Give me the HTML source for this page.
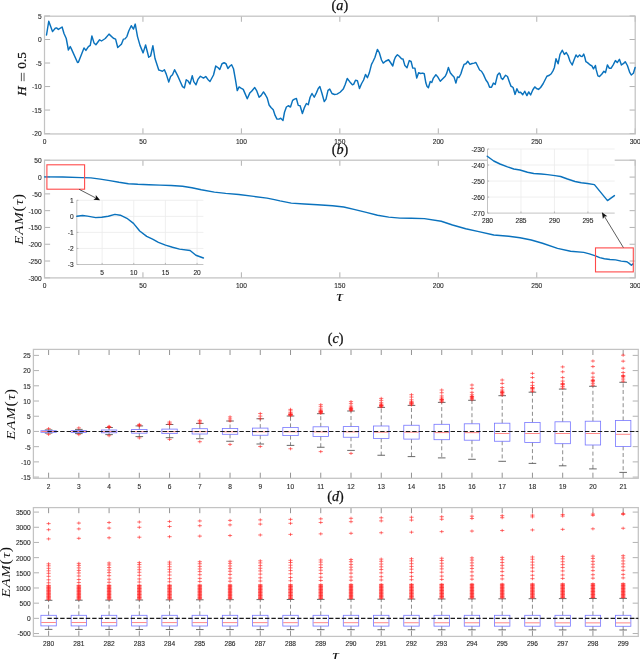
<!DOCTYPE html>
<html><head><meta charset="utf-8"><style>
html,body{margin:0;padding:0;background:#fff;}
body{width:640px;height:659px;overflow:hidden;}
svg{display:block;will-change:transform;font-family:"Liberation Sans",sans-serif;}
text.t{stroke:#2a2a2a;stroke-width:0.12px;}
[font-family="Liberation Serif"] text, text[font-family="Liberation Serif"]{stroke:#111;stroke-width:0.25px;}
</style></head><body>
<svg width="640" height="659" viewBox="0 0 640 659">
<rect width="640" height="659" fill="#fff"/>
<line x1="44.5" y1="133.95" x2="44.5" y2="128.35" stroke="#a9a9a9" stroke-width="0.9" />
<line x1="44.5" y1="16.2" x2="44.5" y2="21.8" stroke="#a9a9a9" stroke-width="0.9" />
<text class="t" x="44.5" y="144" text-anchor="middle" font-size="6.6" fill="#2a2a2a" >0</text>
<line x1="142.95" y1="133.95" x2="142.95" y2="128.35" stroke="#a9a9a9" stroke-width="0.9" />
<line x1="142.95" y1="16.2" x2="142.95" y2="21.8" stroke="#a9a9a9" stroke-width="0.9" />
<text class="t" x="142.95" y="144" text-anchor="middle" font-size="6.6" fill="#2a2a2a" >50</text>
<line x1="241.4" y1="133.95" x2="241.4" y2="128.35" stroke="#a9a9a9" stroke-width="0.9" />
<line x1="241.4" y1="16.2" x2="241.4" y2="21.8" stroke="#a9a9a9" stroke-width="0.9" />
<text class="t" x="241.4" y="144" text-anchor="middle" font-size="6.6" fill="#2a2a2a" >100</text>
<line x1="339.85" y1="133.95" x2="339.85" y2="128.35" stroke="#a9a9a9" stroke-width="0.9" />
<line x1="339.85" y1="16.2" x2="339.85" y2="21.8" stroke="#a9a9a9" stroke-width="0.9" />
<text class="t" x="339.85" y="144" text-anchor="middle" font-size="6.6" fill="#2a2a2a" >150</text>
<line x1="438.3" y1="133.95" x2="438.3" y2="128.35" stroke="#a9a9a9" stroke-width="0.9" />
<line x1="438.3" y1="16.2" x2="438.3" y2="21.8" stroke="#a9a9a9" stroke-width="0.9" />
<text class="t" x="438.3" y="144" text-anchor="middle" font-size="6.6" fill="#2a2a2a" >200</text>
<line x1="536.75" y1="133.95" x2="536.75" y2="128.35" stroke="#a9a9a9" stroke-width="0.9" />
<line x1="536.75" y1="16.2" x2="536.75" y2="21.8" stroke="#a9a9a9" stroke-width="0.9" />
<text class="t" x="536.75" y="144" text-anchor="middle" font-size="6.6" fill="#2a2a2a" >250</text>
<line x1="635.2" y1="133.95" x2="635.2" y2="128.35" stroke="#a9a9a9" stroke-width="0.9" />
<line x1="635.2" y1="16.2" x2="635.2" y2="21.8" stroke="#a9a9a9" stroke-width="0.9" />
<text class="t" x="635.2" y="144" text-anchor="middle" font-size="6.6" fill="#2a2a2a" >300</text>
<line x1="44.5" y1="15.98" x2="50.1" y2="15.98" stroke="#a9a9a9" stroke-width="0.9" />
<line x1="635.2" y1="15.98" x2="629.6" y2="15.98" stroke="#a9a9a9" stroke-width="0.9" />
<text class="t" x="41.6" y="18.88" text-anchor="end" font-size="6.6" fill="#2a2a2a" >5</text>
<line x1="44.5" y1="39.5" x2="50.1" y2="39.5" stroke="#a9a9a9" stroke-width="0.9" />
<line x1="635.2" y1="39.5" x2="629.6" y2="39.5" stroke="#a9a9a9" stroke-width="0.9" />
<text class="t" x="41.6" y="42.4" text-anchor="end" font-size="6.6" fill="#2a2a2a" >0</text>
<line x1="44.5" y1="63.02" x2="50.1" y2="63.02" stroke="#a9a9a9" stroke-width="0.9" />
<line x1="635.2" y1="63.02" x2="629.6" y2="63.02" stroke="#a9a9a9" stroke-width="0.9" />
<text class="t" x="41.6" y="65.92" text-anchor="end" font-size="6.6" fill="#2a2a2a" >-5</text>
<line x1="44.5" y1="86.54" x2="50.1" y2="86.54" stroke="#a9a9a9" stroke-width="0.9" />
<line x1="635.2" y1="86.54" x2="629.6" y2="86.54" stroke="#a9a9a9" stroke-width="0.9" />
<text class="t" x="41.6" y="89.44" text-anchor="end" font-size="6.6" fill="#2a2a2a" >-10</text>
<line x1="44.5" y1="110.06" x2="50.1" y2="110.06" stroke="#a9a9a9" stroke-width="0.9" />
<line x1="635.2" y1="110.06" x2="629.6" y2="110.06" stroke="#a9a9a9" stroke-width="0.9" />
<text class="t" x="41.6" y="112.96" text-anchor="end" font-size="6.6" fill="#2a2a2a" >-15</text>
<line x1="44.5" y1="133.58" x2="50.1" y2="133.58" stroke="#a9a9a9" stroke-width="0.9" />
<line x1="635.2" y1="133.58" x2="629.6" y2="133.58" stroke="#a9a9a9" stroke-width="0.9" />
<text class="t" x="41.6" y="136.48" text-anchor="end" font-size="6.6" fill="#2a2a2a" >-20</text>
<rect x="44.5" y="16.2" width="590.70" height="117.75" fill="none" stroke="#c3c3c3" stroke-width="1.25"/>
<polyline points="46.5,35 48.75,21.25 52.5,31.6 55.25,28.25 56.5,27.9 58.4,29.4 62.1,27 64,33.5 66.25,38.5 68.4,50 70.25,46.6 71.5,49.1 77.5,62.5 78.4,62.25 84,47.9 85.9,50.4 88.4,46.6 90.25,45.4 91.9,36 94,42.9 95.9,44.75 99.6,39.75 101.5,41 105.25,38.5 109,34.1 113.4,38.25 115.6,39.1 117.75,47.5 120.5,45 121.5,44.1 123.5,39.1 125,38.9 126.9,36.6 128.75,31 131.25,25.75 133.5,29.1 135.25,24.1 137.5,36.6 140,45.4 143.1,52.9 145.6,45 148.75,57.25 150.6,56 152.9,45.75 155,58.5 158.75,70 160,70.4 162.5,71.25 164.4,69.75 166.25,74.1 168.75,82 170.6,76.6 172.5,74.75 174.6,69.75 177.5,75.4 180,81 182.5,86.6 184.4,87.9 186.25,79.75 188.1,81 190,84.1 192.25,75.75 193.75,81.6 196,84.8 197.9,79.4 200.4,76.25 203.5,78.1 205.75,76.5 207.9,79.4 210,81.5 213.5,75 215.75,66 217.9,67.5 219.75,69.4 222,63.75 224.1,62.75 226,63.75 227.9,68.5 229.75,66.25 231.6,64.75 233.5,68.75 235.4,79.4 237.25,90.6 239.1,86.9 241,88.1 243.25,89.4 245.4,94.4 247.25,98.75 249.75,93.1 251.6,91.25 254.75,87.5 256.6,90.6 259.1,97.25 261,95.6 263.5,91.9 265.4,94.75 267.25,98.1 269.1,105 271,107.5 272,108.5 273.25,109.75 275.1,115.4 277,119.1 278.9,119.1 280.75,118.25 283,120.4 284.5,112.25 286.4,107 288.25,105.75 290.5,107 292.6,100.4 294.5,99.1 296.4,98.5 298.25,105.4 300.1,105.75 302.4,113.5 304.25,107.9 306.4,103.5 308.25,104.75 310.1,97.25 312,93.5 314.25,97.25 316.4,92.9 318.25,88.5 319.9,86.6 322,93.5 324.25,101.6 326,99.1 328,90.4 329.75,89.1 332,93.5 334.5,94.5 337,94.1 340.1,92.25 343.25,89.1 345.1,84.75 347.25,78.5 349.9,81.9 352.4,84.75 353.6,84.4 355.5,80.25 357.4,80.6 359.5,88.5 361.5,83.75 363.6,80 365.5,74.4 367.4,77.75 369.25,73.1 371.5,64.4 373,61.5 374.9,57.5 377.4,49.4 379.25,52.5 381.5,60 383.25,63.1 385.5,61.25 388.6,59.75 390.5,62.5 392.75,66 394.25,60 395.5,56.9 397.4,54.75 399.25,56.25 401.5,58.75 403,59 404.9,65.6 407,67.75 409.25,60.6 411.1,61.5 412.75,68.1 414.9,68.1 416.75,78.1 418.6,72.75 420.5,73.5 422.75,73.1 424.25,73.75 425.9,83.1 427.1,86.5 428.4,87.75 430.25,81.5 431.75,82.5 433.4,78.1 435.9,74.75 437.75,76.9 440.25,81.25 442.75,78.75 445.25,76.25 446.75,73.1 448.4,67.5 450.25,72.75 452.1,75 454,76.9 455.9,83.1 457.5,76.9 459,77.5 460.9,73.75 462.1,69.75 464,64.4 465.9,63.75 467.75,61.25 470,64.4 472.1,63.5 474,63.1 475.9,62.5 477.75,66.25 479.6,70 481.5,71.25 483.4,74.4 485.9,80 487.75,82.5 489.6,87.25 491.5,87.25 493.4,83.1 495.25,84.4 497.5,75 499.25,73.1 500,73.75 501.25,78.1 502.75,79.4 504.4,76.9 505.6,75.25 507.5,76.5 509.4,81.9 511,86.25 512.25,86.9 513.1,87.5 515,94.4 516.9,88.75 518.75,92.5 520.6,92.25 522.75,94.75 524.75,91.25 526.9,95.6 528.75,91.9 530.6,95 532.75,90 534.75,86.9 536.5,88.5 538.5,89.4 540.6,87.5 543.1,83.75 545,80 546.9,76.25 549.4,75.25 551.25,73.75 553.1,70.6 554.4,67.5 556,58.75 558.1,63.75 560,54.4 562.25,50.25 564.4,54.4 566.25,52.5 568.1,55.6 570,61.25 572.2,65 573.8,60.6 576,54.9 577.7,57.1 579.6,54.9 580.9,56.25 582.25,56.5 583.7,54.1 584.8,57.3 585.9,61.7 587.5,62.6 590.2,65 591.9,65.9 593.5,68.8 595.4,65.5 596.25,69.9 597.9,75.9 599.5,76.5 601.7,74.3 603.9,71.3 605.5,72.65 607.4,65 609.4,68.3 611,68.3 613.2,64.8 615.4,60.6 617.25,62.6 619.4,59.3 621.4,65 623.6,63.4 625.2,61.7 627.4,65.5 629.6,72.1 631.25,75 633.4,73.2 635.1,67.5" fill="none" stroke="#0a72bd" stroke-width="1.45" stroke-linejoin="round" stroke-linecap="round" />
<text x="339.9" y="9.9" text-anchor="middle" font-size="14.2" fill="#111" font-family="Liberation Serif">(<tspan font-style="italic">a</tspan>)</text>
<g transform="translate(25.9,74.6) rotate(-90)" fill="#111" font-family="Liberation Serif"><text x="-21.2" y="0" font-size="13" font-style="italic">H</text><path d="M-6.6 -4.5H1.8M-6.6 -1.85H1.8" stroke="#222" stroke-width="0.75"/><text x="5.9" y="0" font-size="13.2">0.5</text></g>
<line x1="44.5" y1="277.9" x2="44.5" y2="272.3" stroke="#a9a9a9" stroke-width="0.9" />
<line x1="44.5" y1="160.2" x2="44.5" y2="165.8" stroke="#a9a9a9" stroke-width="0.9" />
<text class="t" x="44.5" y="288.2" text-anchor="middle" font-size="6.6" fill="#2a2a2a" >0</text>
<line x1="142.95" y1="277.9" x2="142.95" y2="272.3" stroke="#a9a9a9" stroke-width="0.9" />
<line x1="142.95" y1="160.2" x2="142.95" y2="165.8" stroke="#a9a9a9" stroke-width="0.9" />
<text class="t" x="142.95" y="288.2" text-anchor="middle" font-size="6.6" fill="#2a2a2a" >50</text>
<line x1="241.4" y1="277.9" x2="241.4" y2="272.3" stroke="#a9a9a9" stroke-width="0.9" />
<line x1="241.4" y1="160.2" x2="241.4" y2="165.8" stroke="#a9a9a9" stroke-width="0.9" />
<text class="t" x="241.4" y="288.2" text-anchor="middle" font-size="6.6" fill="#2a2a2a" >100</text>
<line x1="339.85" y1="277.9" x2="339.85" y2="272.3" stroke="#a9a9a9" stroke-width="0.9" />
<line x1="339.85" y1="160.2" x2="339.85" y2="165.8" stroke="#a9a9a9" stroke-width="0.9" />
<text class="t" x="339.85" y="288.2" text-anchor="middle" font-size="6.6" fill="#2a2a2a" >150</text>
<line x1="438.3" y1="277.9" x2="438.3" y2="272.3" stroke="#a9a9a9" stroke-width="0.9" />
<line x1="438.3" y1="160.2" x2="438.3" y2="165.8" stroke="#a9a9a9" stroke-width="0.9" />
<text class="t" x="438.3" y="288.2" text-anchor="middle" font-size="6.6" fill="#2a2a2a" >200</text>
<line x1="536.75" y1="277.9" x2="536.75" y2="272.3" stroke="#a9a9a9" stroke-width="0.9" />
<line x1="536.75" y1="160.2" x2="536.75" y2="165.8" stroke="#a9a9a9" stroke-width="0.9" />
<text class="t" x="536.75" y="288.2" text-anchor="middle" font-size="6.6" fill="#2a2a2a" >250</text>
<line x1="635.2" y1="277.9" x2="635.2" y2="272.3" stroke="#a9a9a9" stroke-width="0.9" />
<line x1="635.2" y1="160.2" x2="635.2" y2="165.8" stroke="#a9a9a9" stroke-width="0.9" />
<text class="t" x="635.2" y="288.2" text-anchor="middle" font-size="6.6" fill="#2a2a2a" >300</text>
<line x1="44.5" y1="160.31" x2="50.1" y2="160.31" stroke="#a9a9a9" stroke-width="0.9" />
<line x1="635.2" y1="160.31" x2="629.6" y2="160.31" stroke="#a9a9a9" stroke-width="0.9" />
<text class="t" x="41.6" y="163.22" text-anchor="end" font-size="6.6" fill="#2a2a2a" >50</text>
<line x1="44.5" y1="177.1" x2="50.1" y2="177.1" stroke="#a9a9a9" stroke-width="0.9" />
<line x1="635.2" y1="177.1" x2="629.6" y2="177.1" stroke="#a9a9a9" stroke-width="0.9" />
<text class="t" x="41.6" y="180" text-anchor="end" font-size="6.6" fill="#2a2a2a" >0</text>
<line x1="44.5" y1="193.88" x2="50.1" y2="193.88" stroke="#a9a9a9" stroke-width="0.9" />
<line x1="635.2" y1="193.88" x2="629.6" y2="193.88" stroke="#a9a9a9" stroke-width="0.9" />
<text class="t" x="41.6" y="196.78" text-anchor="end" font-size="6.6" fill="#2a2a2a" >-50</text>
<line x1="44.5" y1="210.67" x2="50.1" y2="210.67" stroke="#a9a9a9" stroke-width="0.9" />
<line x1="635.2" y1="210.67" x2="629.6" y2="210.67" stroke="#a9a9a9" stroke-width="0.9" />
<text class="t" x="41.6" y="213.57" text-anchor="end" font-size="6.6" fill="#2a2a2a" >-100</text>
<line x1="44.5" y1="227.45" x2="50.1" y2="227.45" stroke="#a9a9a9" stroke-width="0.9" />
<line x1="635.2" y1="227.45" x2="629.6" y2="227.45" stroke="#a9a9a9" stroke-width="0.9" />
<text class="t" x="41.6" y="230.35" text-anchor="end" font-size="6.6" fill="#2a2a2a" >-150</text>
<line x1="44.5" y1="244.24" x2="50.1" y2="244.24" stroke="#a9a9a9" stroke-width="0.9" />
<line x1="635.2" y1="244.24" x2="629.6" y2="244.24" stroke="#a9a9a9" stroke-width="0.9" />
<text class="t" x="41.6" y="247.14" text-anchor="end" font-size="6.6" fill="#2a2a2a" >-200</text>
<line x1="44.5" y1="261.02" x2="50.1" y2="261.02" stroke="#a9a9a9" stroke-width="0.9" />
<line x1="635.2" y1="261.02" x2="629.6" y2="261.02" stroke="#a9a9a9" stroke-width="0.9" />
<text class="t" x="41.6" y="263.92" text-anchor="end" font-size="6.6" fill="#2a2a2a" >-250</text>
<line x1="44.5" y1="277.81" x2="50.1" y2="277.81" stroke="#a9a9a9" stroke-width="0.9" />
<line x1="635.2" y1="277.81" x2="629.6" y2="277.81" stroke="#a9a9a9" stroke-width="0.9" />
<text class="t" x="41.6" y="280.71" text-anchor="end" font-size="6.6" fill="#2a2a2a" >-300</text>
<rect x="44.5" y="160.2" width="590.70" height="117.70" fill="none" stroke="#c3c3c3" stroke-width="1.25"/>
<polyline points="44.6,176.9 62.75,177 81.5,177.6 90.9,177.9 100.3,179.1 109.7,180.6 119,182.3 128.4,183.75 137.8,184.3 149,184.7 160,185.1 171.25,185.5 182.5,186.25 191.9,187.75 201.25,189.8 214.4,192.1 225.7,193.4 238.8,194.5 253.8,196.4 267,198.1 274.4,199.6 280,200.9 291.25,203.1 304.4,204 317.5,204.75 332.5,205.7 343.75,207 355,209.6 366.25,212.4 377.5,215.25 388.75,217.1 400,218.1 411.25,218.25 424.4,218.6 441.25,221.25 452.5,225 465.7,228.75 478.8,231.6 493.8,235 508.8,236.25 520,237.75 531.25,240 542.5,243.2 557.5,248.4 570.6,251.25 583.75,252.4 589.4,253.9 595.5,255.9 599.7,257.6 604.4,258.75 610,259.5 615.6,259.9 621.2,261.1 626.9,261.75 629.2,263.4 631.4,265.3 633,263.9" fill="none" stroke="#0a72bd" stroke-width="1.45" stroke-linejoin="round" stroke-linecap="round" />
<text x="340" y="153.6" text-anchor="middle" font-size="14.2" fill="#111" font-family="Liberation Serif">(<tspan font-style="italic">b</tspan>)</text>
<text style="stroke:none" transform="translate(22.9,219.0) rotate(-90) scale(1.13,1)" text-anchor="middle" font-size="13.2" fill="#111" font-family="Liberation Serif" font-style="italic" letter-spacing="0.75">EAM<tspan font-style="normal" font-size="14">(</tspan><tspan dx="0.3">τ</tspan><tspan font-style="normal" font-size="14" dx="-0.4">)</tspan></text>
<text style="stroke:none" transform="translate(339.7,300.8) scale(1.3,1)" text-anchor="middle" font-size="14.5" fill="#111" font-family="Liberation Serif" font-style="italic">τ</text>
<rect x="46.9" y="164.8" width="37.7" height="24.4" fill="none" stroke="#ff4a4a" stroke-width="1.1"/>
<rect x="595.5" y="247.9" width="37.8" height="24.0" fill="none" stroke="#ff4a4a" stroke-width="1.1"/>
<rect x="76.8" y="200.3" width="126.60000000000001" height="64.19999999999999" fill="#fff"/>
<line x1="102.12" y1="200.3" x2="102.12" y2="264.5" stroke="#ebebeb" stroke-width="0.8" />
<line x1="133.77" y1="200.3" x2="133.77" y2="264.5" stroke="#ebebeb" stroke-width="0.8" />
<line x1="165.42" y1="200.3" x2="165.42" y2="264.5" stroke="#ebebeb" stroke-width="0.8" />
<line x1="197.07" y1="200.3" x2="197.07" y2="264.5" stroke="#ebebeb" stroke-width="0.8" />
<line x1="76.8" y1="200.3" x2="203.4" y2="200.3" stroke="#ebebeb" stroke-width="0.8" />
<line x1="76.8" y1="216.35" x2="203.4" y2="216.35" stroke="#ebebeb" stroke-width="0.8" />
<line x1="76.8" y1="232.4" x2="203.4" y2="232.4" stroke="#ebebeb" stroke-width="0.8" />
<line x1="76.8" y1="248.45" x2="203.4" y2="248.45" stroke="#ebebeb" stroke-width="0.8" />
<line x1="76.8" y1="200.3" x2="76.8" y2="264.5" stroke="#c3c3c3" stroke-width="1.0" />
<line x1="76.8" y1="264.5" x2="203.4" y2="264.5" stroke="#c3c3c3" stroke-width="1.0" />
<line x1="102.12" y1="264.5" x2="102.12" y2="262.9" stroke="#a9a9a9" stroke-width="0.8" />
<text class="t" x="102.12" y="274.8" text-anchor="middle" font-size="6.6" fill="#2a2a2a" >5</text>
<line x1="133.77" y1="264.5" x2="133.77" y2="262.9" stroke="#a9a9a9" stroke-width="0.8" />
<text class="t" x="133.77" y="274.8" text-anchor="middle" font-size="6.6" fill="#2a2a2a" >10</text>
<line x1="165.42" y1="264.5" x2="165.42" y2="262.9" stroke="#a9a9a9" stroke-width="0.8" />
<text class="t" x="165.42" y="274.8" text-anchor="middle" font-size="6.6" fill="#2a2a2a" >15</text>
<line x1="197.07" y1="264.5" x2="197.07" y2="262.9" stroke="#a9a9a9" stroke-width="0.8" />
<text class="t" x="197.07" y="274.8" text-anchor="middle" font-size="6.6" fill="#2a2a2a" >20</text>
<line x1="76.8" y1="200.3" x2="78.4" y2="200.3" stroke="#a9a9a9" stroke-width="0.8" />
<text class="t" x="73.6" y="203.2" text-anchor="end" font-size="6.6" fill="#2a2a2a" >1</text>
<line x1="76.8" y1="216.35" x2="78.4" y2="216.35" stroke="#a9a9a9" stroke-width="0.8" />
<text class="t" x="73.6" y="219.25" text-anchor="end" font-size="6.6" fill="#2a2a2a" >0</text>
<line x1="76.8" y1="232.4" x2="78.4" y2="232.4" stroke="#a9a9a9" stroke-width="0.8" />
<text class="t" x="73.6" y="235.3" text-anchor="end" font-size="6.6" fill="#2a2a2a" >-1</text>
<line x1="76.8" y1="248.45" x2="78.4" y2="248.45" stroke="#a9a9a9" stroke-width="0.8" />
<text class="t" x="73.6" y="251.35" text-anchor="end" font-size="6.6" fill="#2a2a2a" >-2</text>
<line x1="76.8" y1="264.5" x2="78.4" y2="264.5" stroke="#a9a9a9" stroke-width="0.8" />
<text class="t" x="73.6" y="267.4" text-anchor="end" font-size="6.6" fill="#2a2a2a" >-3</text>
<polyline points="76.9,216.3 82.6,215.5 87.5,216.1 95.7,217.6 101.7,217.2 108.3,216.3 114.9,214.4 120.3,215.2 126.9,218.3 133.5,223.4 139.7,231 146.7,236.4 152.6,239.2 158.4,242.3 165.5,245.1 172.5,247.2 179.5,249.1 190.1,250.5 195.9,255.2 203.4,258" fill="none" stroke="#0a72bd" stroke-width="1.45" stroke-linejoin="round" stroke-linecap="round" />
<rect x="487.5" y="149.0" width="127.20000000000005" height="64.1" fill="#fff"/>
<line x1="520.98" y1="149" x2="520.98" y2="213.1" stroke="#ebebeb" stroke-width="0.8" />
<line x1="554.45" y1="149" x2="554.45" y2="213.1" stroke="#ebebeb" stroke-width="0.8" />
<line x1="587.92" y1="149" x2="587.92" y2="213.1" stroke="#ebebeb" stroke-width="0.8" />
<line x1="487.5" y1="149" x2="614.7" y2="149" stroke="#ebebeb" stroke-width="0.8" />
<line x1="487.5" y1="165.03" x2="614.7" y2="165.03" stroke="#ebebeb" stroke-width="0.8" />
<line x1="487.5" y1="181.05" x2="614.7" y2="181.05" stroke="#ebebeb" stroke-width="0.8" />
<line x1="487.5" y1="197.07" x2="614.7" y2="197.07" stroke="#ebebeb" stroke-width="0.8" />
<line x1="487.5" y1="149" x2="487.5" y2="213.1" stroke="#c3c3c3" stroke-width="1.0" />
<line x1="487.5" y1="213.1" x2="614.7" y2="213.1" stroke="#c3c3c3" stroke-width="1.0" />
<line x1="487.5" y1="213.1" x2="487.5" y2="211.5" stroke="#a9a9a9" stroke-width="0.8" />
<text class="t" x="487.5" y="223.4" text-anchor="middle" font-size="6.6" fill="#2a2a2a" >280</text>
<line x1="520.98" y1="213.1" x2="520.98" y2="211.5" stroke="#a9a9a9" stroke-width="0.8" />
<text class="t" x="520.98" y="223.4" text-anchor="middle" font-size="6.6" fill="#2a2a2a" >285</text>
<line x1="554.45" y1="213.1" x2="554.45" y2="211.5" stroke="#a9a9a9" stroke-width="0.8" />
<text class="t" x="554.45" y="223.4" text-anchor="middle" font-size="6.6" fill="#2a2a2a" >290</text>
<line x1="587.92" y1="213.1" x2="587.92" y2="211.5" stroke="#a9a9a9" stroke-width="0.8" />
<text class="t" x="587.92" y="223.4" text-anchor="middle" font-size="6.6" fill="#2a2a2a" >295</text>
<line x1="487.5" y1="149" x2="489.1" y2="149" stroke="#a9a9a9" stroke-width="0.8" />
<text class="t" x="484.6" y="151.9" text-anchor="end" font-size="6.6" fill="#2a2a2a" >-230</text>
<line x1="487.5" y1="165.03" x2="489.1" y2="165.03" stroke="#a9a9a9" stroke-width="0.8" />
<text class="t" x="484.6" y="167.93" text-anchor="end" font-size="6.6" fill="#2a2a2a" >-240</text>
<line x1="487.5" y1="181.05" x2="489.1" y2="181.05" stroke="#a9a9a9" stroke-width="0.8" />
<text class="t" x="484.6" y="183.95" text-anchor="end" font-size="6.6" fill="#2a2a2a" >-250</text>
<line x1="487.5" y1="197.07" x2="489.1" y2="197.07" stroke="#a9a9a9" stroke-width="0.8" />
<text class="t" x="484.6" y="199.97" text-anchor="end" font-size="6.6" fill="#2a2a2a" >-260</text>
<line x1="487.5" y1="213.1" x2="489.1" y2="213.1" stroke="#a9a9a9" stroke-width="0.8" />
<text class="t" x="484.6" y="216" text-anchor="end" font-size="6.6" fill="#2a2a2a" >-270</text>
<polyline points="487.25,156.25 493.75,161 500,164 507.5,166.9 513.75,169 520,170 527.5,172.25 533.75,173.5 541.25,174 547.5,174.6 555,175.6 560.6,176.5 567.5,179 575,181.5 581.25,182.75 587.5,183.5 594.4,184.6 607.5,200.6 614.4,195.6" fill="none" stroke="#0a72bd" stroke-width="1.45" stroke-linejoin="round" stroke-linecap="round" />
<line x1="79.1" y1="189.3" x2="95.48" y2="197.8" stroke="#333" stroke-width="0.8" />
<polygon points="100.1,200.2 93.4,199.65 95.75,197.94 95.79,195.04" fill="#111"/>
<line x1="623.4" y1="247.6" x2="604.6" y2="216.74" stroke="#333" stroke-width="0.8" />
<polygon points="601.9,212.3 607.35,216.24 604.45,216.48 602.9,218.95" fill="#111"/>
<line x1="48.6" y1="478.3" x2="48.6" y2="472.7" stroke="#777" stroke-width="0.8" />
<line x1="48.6" y1="349.4" x2="48.6" y2="355" stroke="#777" stroke-width="0.8" />
<text class="t" x="48.6" y="488.6" text-anchor="middle" font-size="6.6" fill="#2a2a2a" >2</text>
<line x1="78.84" y1="478.3" x2="78.84" y2="472.7" stroke="#777" stroke-width="0.8" />
<line x1="78.84" y1="349.4" x2="78.84" y2="355" stroke="#777" stroke-width="0.8" />
<text class="t" x="78.84" y="488.6" text-anchor="middle" font-size="6.6" fill="#2a2a2a" >3</text>
<line x1="109.08" y1="478.3" x2="109.08" y2="472.7" stroke="#777" stroke-width="0.8" />
<line x1="109.08" y1="349.4" x2="109.08" y2="355" stroke="#777" stroke-width="0.8" />
<text class="t" x="109.08" y="488.6" text-anchor="middle" font-size="6.6" fill="#2a2a2a" >4</text>
<line x1="139.32" y1="478.3" x2="139.32" y2="472.7" stroke="#777" stroke-width="0.8" />
<line x1="139.32" y1="349.4" x2="139.32" y2="355" stroke="#777" stroke-width="0.8" />
<text class="t" x="139.32" y="488.6" text-anchor="middle" font-size="6.6" fill="#2a2a2a" >5</text>
<line x1="169.56" y1="478.3" x2="169.56" y2="472.7" stroke="#777" stroke-width="0.8" />
<line x1="169.56" y1="349.4" x2="169.56" y2="355" stroke="#777" stroke-width="0.8" />
<text class="t" x="169.56" y="488.6" text-anchor="middle" font-size="6.6" fill="#2a2a2a" >6</text>
<line x1="199.8" y1="478.3" x2="199.8" y2="472.7" stroke="#777" stroke-width="0.8" />
<line x1="199.8" y1="349.4" x2="199.8" y2="355" stroke="#777" stroke-width="0.8" />
<text class="t" x="199.8" y="488.6" text-anchor="middle" font-size="6.6" fill="#2a2a2a" >7</text>
<line x1="230.04" y1="478.3" x2="230.04" y2="472.7" stroke="#777" stroke-width="0.8" />
<line x1="230.04" y1="349.4" x2="230.04" y2="355" stroke="#777" stroke-width="0.8" />
<text class="t" x="230.04" y="488.6" text-anchor="middle" font-size="6.6" fill="#2a2a2a" >8</text>
<line x1="260.28" y1="478.3" x2="260.28" y2="472.7" stroke="#777" stroke-width="0.8" />
<line x1="260.28" y1="349.4" x2="260.28" y2="355" stroke="#777" stroke-width="0.8" />
<text class="t" x="260.28" y="488.6" text-anchor="middle" font-size="6.6" fill="#2a2a2a" >9</text>
<line x1="290.52" y1="478.3" x2="290.52" y2="472.7" stroke="#777" stroke-width="0.8" />
<line x1="290.52" y1="349.4" x2="290.52" y2="355" stroke="#777" stroke-width="0.8" />
<text class="t" x="290.52" y="488.6" text-anchor="middle" font-size="6.6" fill="#2a2a2a" >10</text>
<line x1="320.76" y1="478.3" x2="320.76" y2="472.7" stroke="#777" stroke-width="0.8" />
<line x1="320.76" y1="349.4" x2="320.76" y2="355" stroke="#777" stroke-width="0.8" />
<text class="t" x="320.76" y="488.6" text-anchor="middle" font-size="6.6" fill="#2a2a2a" >11</text>
<line x1="351" y1="478.3" x2="351" y2="472.7" stroke="#777" stroke-width="0.8" />
<line x1="351" y1="349.4" x2="351" y2="355" stroke="#777" stroke-width="0.8" />
<text class="t" x="351" y="488.6" text-anchor="middle" font-size="6.6" fill="#2a2a2a" >12</text>
<line x1="381.24" y1="478.3" x2="381.24" y2="472.7" stroke="#777" stroke-width="0.8" />
<line x1="381.24" y1="349.4" x2="381.24" y2="355" stroke="#777" stroke-width="0.8" />
<text class="t" x="381.24" y="488.6" text-anchor="middle" font-size="6.6" fill="#2a2a2a" >13</text>
<line x1="411.48" y1="478.3" x2="411.48" y2="472.7" stroke="#777" stroke-width="0.8" />
<line x1="411.48" y1="349.4" x2="411.48" y2="355" stroke="#777" stroke-width="0.8" />
<text class="t" x="411.48" y="488.6" text-anchor="middle" font-size="6.6" fill="#2a2a2a" >14</text>
<line x1="441.72" y1="478.3" x2="441.72" y2="472.7" stroke="#777" stroke-width="0.8" />
<line x1="441.72" y1="349.4" x2="441.72" y2="355" stroke="#777" stroke-width="0.8" />
<text class="t" x="441.72" y="488.6" text-anchor="middle" font-size="6.6" fill="#2a2a2a" >15</text>
<line x1="471.96" y1="478.3" x2="471.96" y2="472.7" stroke="#777" stroke-width="0.8" />
<line x1="471.96" y1="349.4" x2="471.96" y2="355" stroke="#777" stroke-width="0.8" />
<text class="t" x="471.96" y="488.6" text-anchor="middle" font-size="6.6" fill="#2a2a2a" >16</text>
<line x1="502.2" y1="478.3" x2="502.2" y2="472.7" stroke="#777" stroke-width="0.8" />
<line x1="502.2" y1="349.4" x2="502.2" y2="355" stroke="#777" stroke-width="0.8" />
<text class="t" x="502.2" y="488.6" text-anchor="middle" font-size="6.6" fill="#2a2a2a" >17</text>
<line x1="532.44" y1="478.3" x2="532.44" y2="472.7" stroke="#777" stroke-width="0.8" />
<line x1="532.44" y1="349.4" x2="532.44" y2="355" stroke="#777" stroke-width="0.8" />
<text class="t" x="532.44" y="488.6" text-anchor="middle" font-size="6.6" fill="#2a2a2a" >18</text>
<line x1="562.68" y1="478.3" x2="562.68" y2="472.7" stroke="#777" stroke-width="0.8" />
<line x1="562.68" y1="349.4" x2="562.68" y2="355" stroke="#777" stroke-width="0.8" />
<text class="t" x="562.68" y="488.6" text-anchor="middle" font-size="6.6" fill="#2a2a2a" >19</text>
<line x1="592.92" y1="478.3" x2="592.92" y2="472.7" stroke="#777" stroke-width="0.8" />
<line x1="592.92" y1="349.4" x2="592.92" y2="355" stroke="#777" stroke-width="0.8" />
<text class="t" x="592.92" y="488.6" text-anchor="middle" font-size="6.6" fill="#2a2a2a" >20</text>
<line x1="623.16" y1="478.3" x2="623.16" y2="472.7" stroke="#777" stroke-width="0.8" />
<line x1="623.16" y1="349.4" x2="623.16" y2="355" stroke="#777" stroke-width="0.8" />
<text class="t" x="623.16" y="488.6" text-anchor="middle" font-size="6.6" fill="#2a2a2a" >21</text>
<line x1="33.4" y1="355.38" x2="39" y2="355.38" stroke="#a9a9a9" stroke-width="0.9" />
<line x1="638.3" y1="355.38" x2="632.7" y2="355.38" stroke="#a9a9a9" stroke-width="0.9" />
<text class="t" x="30.6" y="358.27" text-anchor="end" font-size="6.6" fill="#2a2a2a" >25</text>
<line x1="33.4" y1="370.59" x2="39" y2="370.59" stroke="#a9a9a9" stroke-width="0.9" />
<line x1="638.3" y1="370.59" x2="632.7" y2="370.59" stroke="#a9a9a9" stroke-width="0.9" />
<text class="t" x="30.6" y="373.49" text-anchor="end" font-size="6.6" fill="#2a2a2a" >20</text>
<line x1="33.4" y1="385.81" x2="39" y2="385.81" stroke="#a9a9a9" stroke-width="0.9" />
<line x1="638.3" y1="385.81" x2="632.7" y2="385.81" stroke="#a9a9a9" stroke-width="0.9" />
<text class="t" x="30.6" y="388.7" text-anchor="end" font-size="6.6" fill="#2a2a2a" >15</text>
<line x1="33.4" y1="401.02" x2="39" y2="401.02" stroke="#a9a9a9" stroke-width="0.9" />
<line x1="638.3" y1="401.02" x2="632.7" y2="401.02" stroke="#a9a9a9" stroke-width="0.9" />
<text class="t" x="30.6" y="403.92" text-anchor="end" font-size="6.6" fill="#2a2a2a" >10</text>
<line x1="33.4" y1="416.24" x2="39" y2="416.24" stroke="#a9a9a9" stroke-width="0.9" />
<line x1="638.3" y1="416.24" x2="632.7" y2="416.24" stroke="#a9a9a9" stroke-width="0.9" />
<text class="t" x="30.6" y="419.13" text-anchor="end" font-size="6.6" fill="#2a2a2a" >5</text>
<line x1="33.4" y1="431.45" x2="39" y2="431.45" stroke="#a9a9a9" stroke-width="0.9" />
<line x1="638.3" y1="431.45" x2="632.7" y2="431.45" stroke="#a9a9a9" stroke-width="0.9" />
<text class="t" x="30.6" y="434.35" text-anchor="end" font-size="6.6" fill="#2a2a2a" >0</text>
<line x1="33.4" y1="446.66" x2="39" y2="446.66" stroke="#a9a9a9" stroke-width="0.9" />
<line x1="638.3" y1="446.66" x2="632.7" y2="446.66" stroke="#a9a9a9" stroke-width="0.9" />
<text class="t" x="30.6" y="449.56" text-anchor="end" font-size="6.6" fill="#2a2a2a" >-5</text>
<line x1="33.4" y1="461.88" x2="39" y2="461.88" stroke="#a9a9a9" stroke-width="0.9" />
<line x1="638.3" y1="461.88" x2="632.7" y2="461.88" stroke="#a9a9a9" stroke-width="0.9" />
<text class="t" x="30.6" y="464.78" text-anchor="end" font-size="6.6" fill="#2a2a2a" >-10</text>
<line x1="33.4" y1="477.09" x2="39" y2="477.09" stroke="#a9a9a9" stroke-width="0.9" />
<line x1="638.3" y1="477.09" x2="632.7" y2="477.09" stroke="#a9a9a9" stroke-width="0.9" />
<text class="t" x="30.6" y="479.99" text-anchor="end" font-size="6.6" fill="#2a2a2a" >-15</text>
<rect x="33.4" y="349.4" width="604.90" height="128.90" fill="none" stroke="#c3c3c3" stroke-width="1.25"/>
<line x1="48.6" y1="430.7" x2="48.6" y2="429.9" stroke="#5a5a5a" stroke-width="0.7" stroke-dasharray="4,2.6"/>
<line x1="48.6" y1="432.3" x2="48.6" y2="433.1" stroke="#5a5a5a" stroke-width="0.7" stroke-dasharray="4,2.6"/>
<line x1="44.8" y1="429.9" x2="52.4" y2="429.9" stroke="#444" stroke-width="0.8" />
<line x1="44.8" y1="433.1" x2="52.4" y2="433.1" stroke="#444" stroke-width="0.8" />
<rect x="40.9" y="430.7" width="15.4" height="1.6" fill="none" stroke="#7676ff" stroke-width="0.8"/>
<line x1="41.3" y1="431.5" x2="55.9" y2="431.5" stroke="#ff6a6a" stroke-width="0.8" />
<path d="M46.5 428.6H50.7M48.6 427V430.2" stroke="#ff2020" stroke-width="0.62"/>
<path d="M46.5 434.4H50.7M48.6 432.8V436" stroke="#ff2020" stroke-width="0.62"/>
<line x1="78.84" y1="430.6" x2="78.84" y2="429.4" stroke="#5a5a5a" stroke-width="0.7" stroke-dasharray="4,2.6"/>
<line x1="78.84" y1="432.5" x2="78.84" y2="433.6" stroke="#5a5a5a" stroke-width="0.7" stroke-dasharray="4,2.6"/>
<line x1="75.04" y1="429.4" x2="82.64" y2="429.4" stroke="#444" stroke-width="0.8" />
<line x1="75.04" y1="433.6" x2="82.64" y2="433.6" stroke="#444" stroke-width="0.8" />
<rect x="71.14" y="430.6" width="15.4" height="1.9" fill="none" stroke="#7676ff" stroke-width="0.8"/>
<line x1="71.54" y1="431.5" x2="86.14" y2="431.5" stroke="#ff6a6a" stroke-width="0.8" />
<path d="M76.74 427.9H80.94M78.84 426.3V429.5" stroke="#ff2020" stroke-width="0.62"/>
<path d="M76.74 434.6H80.94M78.84 433V436.2" stroke="#ff2020" stroke-width="0.62"/>
<line x1="109.08" y1="430" x2="109.08" y2="427.5" stroke="#5a5a5a" stroke-width="0.7" stroke-dasharray="4,2.6"/>
<line x1="109.08" y1="432.8" x2="109.08" y2="434.6" stroke="#5a5a5a" stroke-width="0.7" stroke-dasharray="4,2.6"/>
<line x1="105.28" y1="427.5" x2="112.88" y2="427.5" stroke="#444" stroke-width="0.8" />
<line x1="105.28" y1="434.6" x2="112.88" y2="434.6" stroke="#444" stroke-width="0.8" />
<rect x="101.38" y="430" width="15.4" height="2.8" fill="none" stroke="#7676ff" stroke-width="0.8"/>
<line x1="101.78" y1="431.6" x2="116.38" y2="431.6" stroke="#ff6a6a" stroke-width="0.8" />
<path d="M106.98 427.5H111.18M109.08 425.9V429.1" stroke="#ff2020" stroke-width="0.62"/>
<path d="M106.98 426.95H111.18M109.08 425.35V428.55" stroke="#ff2020" stroke-width="0.62"/>
<path d="M106.98 426.4H111.18M109.08 424.8V428" stroke="#ff2020" stroke-width="0.62"/>
<path d="M106.98 435.7H111.18M109.08 434.1V437.3" stroke="#ff2020" stroke-width="0.62"/>
<line x1="139.32" y1="429.5" x2="139.32" y2="425.9" stroke="#5a5a5a" stroke-width="0.7" stroke-dasharray="4,2.6"/>
<line x1="139.32" y1="433.2" x2="139.32" y2="436.6" stroke="#5a5a5a" stroke-width="0.7" stroke-dasharray="4,2.6"/>
<line x1="135.52" y1="425.9" x2="143.12" y2="425.9" stroke="#444" stroke-width="0.8" />
<line x1="135.52" y1="436.6" x2="143.12" y2="436.6" stroke="#444" stroke-width="0.8" />
<rect x="131.62" y="429.5" width="15.4" height="3.7" fill="none" stroke="#7676ff" stroke-width="0.8"/>
<line x1="132.02" y1="431.6" x2="146.62" y2="431.6" stroke="#ff6a6a" stroke-width="0.8" />
<path d="M137.22 425.9H141.42M139.32 424.3V427.5" stroke="#ff2020" stroke-width="0.62"/>
<path d="M137.22 425.15H141.42M139.32 423.55V426.75" stroke="#ff2020" stroke-width="0.62"/>
<path d="M137.22 424.4H141.42M139.32 422.8V426" stroke="#ff2020" stroke-width="0.62"/>
<path d="M137.22 437.9H141.42M139.32 436.3V439.5" stroke="#ff2020" stroke-width="0.62"/>
<line x1="169.56" y1="429.1" x2="169.56" y2="424.5" stroke="#5a5a5a" stroke-width="0.7" stroke-dasharray="4,2.6"/>
<line x1="169.56" y1="433.6" x2="169.56" y2="437.7" stroke="#5a5a5a" stroke-width="0.7" stroke-dasharray="4,2.6"/>
<line x1="165.76" y1="424.5" x2="173.36" y2="424.5" stroke="#444" stroke-width="0.8" />
<line x1="165.76" y1="437.7" x2="173.36" y2="437.7" stroke="#444" stroke-width="0.8" />
<rect x="161.86" y="429.1" width="15.4" height="4.5" fill="none" stroke="#7676ff" stroke-width="0.8"/>
<line x1="162.26" y1="431.7" x2="176.86" y2="431.7" stroke="#ff6a6a" stroke-width="0.8" />
<path d="M167.46 424.5H171.66M169.56 422.9V426.1" stroke="#ff2020" stroke-width="0.62"/>
<path d="M167.46 423.25H171.66M169.56 421.65V424.85" stroke="#ff2020" stroke-width="0.62"/>
<path d="M167.46 422H171.66M169.56 420.4V423.6" stroke="#ff2020" stroke-width="0.62"/>
<path d="M167.46 439.4H171.66M169.56 437.8V441" stroke="#ff2020" stroke-width="0.62"/>
<line x1="199.8" y1="428.7" x2="199.8" y2="423.4" stroke="#5a5a5a" stroke-width="0.7" stroke-dasharray="4,2.6"/>
<line x1="199.8" y1="434" x2="199.8" y2="438.7" stroke="#5a5a5a" stroke-width="0.7" stroke-dasharray="4,2.6"/>
<line x1="196" y1="423.4" x2="203.6" y2="423.4" stroke="#444" stroke-width="0.8" />
<line x1="196" y1="438.7" x2="203.6" y2="438.7" stroke="#444" stroke-width="0.8" />
<rect x="192.1" y="428.7" width="15.4" height="5.3" fill="none" stroke="#7676ff" stroke-width="0.8"/>
<line x1="192.5" y1="431.7" x2="207.1" y2="431.7" stroke="#ff6a6a" stroke-width="0.8" />
<path d="M197.7 423.4H201.9M199.8 421.8V425" stroke="#ff2020" stroke-width="0.62"/>
<path d="M197.7 421.9H201.9M199.8 420.3V423.5" stroke="#ff2020" stroke-width="0.62"/>
<path d="M197.7 420.4H201.9M199.8 418.8V422" stroke="#ff2020" stroke-width="0.62"/>
<path d="M197.7 441.7H201.9M199.8 440.1V443.3" stroke="#ff2020" stroke-width="0.62"/>
<line x1="230.04" y1="428.5" x2="230.04" y2="421" stroke="#5a5a5a" stroke-width="0.7" stroke-dasharray="4,2.6"/>
<line x1="230.04" y1="434.3" x2="230.04" y2="441.25" stroke="#5a5a5a" stroke-width="0.7" stroke-dasharray="4,2.6"/>
<line x1="226.24" y1="421" x2="233.84" y2="421" stroke="#444" stroke-width="0.8" />
<line x1="226.24" y1="441.25" x2="233.84" y2="441.25" stroke="#444" stroke-width="0.8" />
<rect x="222.34" y="428.5" width="15.4" height="5.8" fill="none" stroke="#7676ff" stroke-width="0.8"/>
<line x1="222.74" y1="431.8" x2="237.34" y2="431.8" stroke="#ff6a6a" stroke-width="0.8" />
<path d="M227.94 421H232.14M230.04 419.4V422.6" stroke="#ff2020" stroke-width="0.62"/>
<path d="M227.94 418.95H232.14M230.04 417.35V420.55" stroke="#ff2020" stroke-width="0.62"/>
<path d="M227.94 416.9H232.14M230.04 415.3V418.5" stroke="#ff2020" stroke-width="0.62"/>
<path d="M227.94 444.4H232.14M230.04 442.8V446" stroke="#ff2020" stroke-width="0.62"/>
<line x1="260.28" y1="428.1" x2="260.28" y2="418.75" stroke="#5a5a5a" stroke-width="0.7" stroke-dasharray="4,2.6"/>
<line x1="260.28" y1="435.25" x2="260.28" y2="444" stroke="#5a5a5a" stroke-width="0.7" stroke-dasharray="4,2.6"/>
<line x1="256.48" y1="418.75" x2="264.08" y2="418.75" stroke="#444" stroke-width="0.8" />
<line x1="256.48" y1="444" x2="264.08" y2="444" stroke="#444" stroke-width="0.8" />
<rect x="252.58" y="428.1" width="15.4" height="7.15" fill="none" stroke="#7676ff" stroke-width="0.8"/>
<line x1="252.98" y1="431.8" x2="267.58" y2="431.8" stroke="#ff6a6a" stroke-width="0.8" />
<path d="M258.18 418.75H262.38M260.28 417.15V420.35" stroke="#ff2020" stroke-width="0.62"/>
<path d="M258.18 416.12H262.38M260.28 414.52V417.73" stroke="#ff2020" stroke-width="0.62"/>
<path d="M258.18 413.5H262.38M260.28 411.9V415.1" stroke="#ff2020" stroke-width="0.62"/>
<path d="M258.18 446.5H262.38M260.28 444.9V448.1" stroke="#ff2020" stroke-width="0.62"/>
<line x1="290.52" y1="427.4" x2="290.52" y2="416" stroke="#5a5a5a" stroke-width="0.7" stroke-dasharray="4,2.6"/>
<line x1="290.52" y1="435.6" x2="290.52" y2="445.4" stroke="#5a5a5a" stroke-width="0.7" stroke-dasharray="4,2.6"/>
<line x1="286.72" y1="416" x2="294.32" y2="416" stroke="#444" stroke-width="0.8" />
<line x1="286.72" y1="445.4" x2="294.32" y2="445.4" stroke="#444" stroke-width="0.8" />
<rect x="282.82" y="427.4" width="15.4" height="8.2" fill="none" stroke="#7676ff" stroke-width="0.8"/>
<line x1="283.22" y1="431.8" x2="297.82" y2="431.8" stroke="#ff6a6a" stroke-width="0.8" />
<path d="M288.42 415.74H292.62M290.52 414.14V417.34" stroke="#ff2020" stroke-width="0.62"/>
<path d="M288.42 415.21H292.62M290.52 413.61V416.81" stroke="#ff2020" stroke-width="0.62"/>
<path d="M288.42 414.68H292.62M290.52 413.08V416.28" stroke="#ff2020" stroke-width="0.62"/>
<path d="M288.42 414.51H292.62M290.52 412.91V416.12" stroke="#ff2020" stroke-width="0.62"/>
<path d="M288.42 414.35H292.62M290.52 412.75V415.95" stroke="#ff2020" stroke-width="0.62"/>
<path d="M288.42 413.62H292.62M290.52 412.02V415.22" stroke="#ff2020" stroke-width="0.62"/>
<path d="M288.42 412.57H292.62M290.52 410.97V414.17" stroke="#ff2020" stroke-width="0.62"/>
<path d="M288.42 410.85H292.62M290.52 409.25V412.45" stroke="#ff2020" stroke-width="0.62"/>
<path d="M288.42 409.4H292.62M290.52 407.8V411" stroke="#ff2020" stroke-width="0.62"/>
<path d="M288.42 448.75H292.62M290.52 447.15V450.35" stroke="#ff2020" stroke-width="0.62"/>
<line x1="320.76" y1="426.8" x2="320.76" y2="413.7" stroke="#5a5a5a" stroke-width="0.7" stroke-dasharray="4,2.6"/>
<line x1="320.76" y1="436.6" x2="320.76" y2="447.25" stroke="#5a5a5a" stroke-width="0.7" stroke-dasharray="4,2.6"/>
<line x1="316.96" y1="413.7" x2="324.56" y2="413.7" stroke="#444" stroke-width="0.8" />
<line x1="316.96" y1="447.25" x2="324.56" y2="447.25" stroke="#444" stroke-width="0.8" />
<rect x="313.06" y="426.8" width="15.4" height="9.8" fill="none" stroke="#7676ff" stroke-width="0.8"/>
<line x1="313.46" y1="431.9" x2="328.06" y2="431.9" stroke="#ff6a6a" stroke-width="0.8" />
<path d="M318.66 413.34H322.86M320.76 411.74V414.94" stroke="#ff2020" stroke-width="0.62"/>
<path d="M318.66 412.62H322.86M320.76 411.02V414.22" stroke="#ff2020" stroke-width="0.62"/>
<path d="M318.66 411.9H322.86M320.76 410.3V413.5" stroke="#ff2020" stroke-width="0.62"/>
<path d="M318.66 411.68H322.86M320.76 410.07V413.28" stroke="#ff2020" stroke-width="0.62"/>
<path d="M318.66 411.45H322.86M320.76 409.85V413.05" stroke="#ff2020" stroke-width="0.62"/>
<path d="M318.66 410.46H322.86M320.76 408.86V412.06" stroke="#ff2020" stroke-width="0.62"/>
<path d="M318.66 409.02H322.86M320.76 407.42V410.62" stroke="#ff2020" stroke-width="0.62"/>
<path d="M318.66 406.68H322.86M320.76 405.08V408.28" stroke="#ff2020" stroke-width="0.62"/>
<path d="M318.66 404.7H322.86M320.76 403.1V406.3" stroke="#ff2020" stroke-width="0.62"/>
<path d="M318.66 451.6H322.86M320.76 450V453.2" stroke="#ff2020" stroke-width="0.62"/>
<line x1="351" y1="426.6" x2="351" y2="411" stroke="#5a5a5a" stroke-width="0.7" stroke-dasharray="4,2.6"/>
<line x1="351" y1="437.25" x2="351" y2="450.4" stroke="#5a5a5a" stroke-width="0.7" stroke-dasharray="4,2.6"/>
<line x1="347.2" y1="411" x2="354.8" y2="411" stroke="#444" stroke-width="0.8" />
<line x1="347.2" y1="450.4" x2="354.8" y2="450.4" stroke="#444" stroke-width="0.8" />
<rect x="343.3" y="426.6" width="15.4" height="10.65" fill="none" stroke="#7676ff" stroke-width="0.8"/>
<line x1="343.7" y1="431.9" x2="358.3" y2="431.9" stroke="#ff6a6a" stroke-width="0.8" />
<path d="M348.9 410.62H353.1M351 409.02V412.22" stroke="#ff2020" stroke-width="0.62"/>
<path d="M348.9 409.87H353.1M351 408.27V411.47" stroke="#ff2020" stroke-width="0.62"/>
<path d="M348.9 409.12H353.1M351 407.52V410.72" stroke="#ff2020" stroke-width="0.62"/>
<path d="M348.9 408.88H353.1M351 407.28V410.49" stroke="#ff2020" stroke-width="0.62"/>
<path d="M348.9 408.65H353.1M351 407.05V410.25" stroke="#ff2020" stroke-width="0.62"/>
<path d="M348.9 407.62H353.1M351 406.02V409.22" stroke="#ff2020" stroke-width="0.62"/>
<path d="M348.9 406.11H353.1M351 404.51V407.71" stroke="#ff2020" stroke-width="0.62"/>
<path d="M348.9 403.67H353.1M351 402.07V405.27" stroke="#ff2020" stroke-width="0.62"/>
<path d="M348.9 401.6H353.1M351 400V403.2" stroke="#ff2020" stroke-width="0.62"/>
<path d="M348.9 453.4H353.1M351 451.8V455" stroke="#ff2020" stroke-width="0.62"/>
<line x1="381.24" y1="426" x2="381.24" y2="407.4" stroke="#5a5a5a" stroke-width="0.7" stroke-dasharray="4,2.6"/>
<line x1="381.24" y1="438.4" x2="381.24" y2="455.25" stroke="#5a5a5a" stroke-width="0.7" stroke-dasharray="4,2.6"/>
<line x1="377.44" y1="407.4" x2="385.04" y2="407.4" stroke="#444" stroke-width="0.8" />
<line x1="377.44" y1="455.25" x2="385.04" y2="455.25" stroke="#444" stroke-width="0.8" />
<rect x="373.54" y="426" width="15.4" height="12.4" fill="none" stroke="#7676ff" stroke-width="0.8"/>
<line x1="373.94" y1="432.2" x2="388.54" y2="432.2" stroke="#ff6a6a" stroke-width="0.8" />
<path d="M379.14 407.04H383.34M381.24 405.44V408.64" stroke="#ff2020" stroke-width="0.62"/>
<path d="M379.14 406.32H383.34M381.24 404.72V407.92" stroke="#ff2020" stroke-width="0.62"/>
<path d="M379.14 405.6H383.34M381.24 404V407.2" stroke="#ff2020" stroke-width="0.62"/>
<path d="M379.14 405.38H383.34M381.24 403.77V406.98" stroke="#ff2020" stroke-width="0.62"/>
<path d="M379.14 405.15H383.34M381.24 403.55V406.75" stroke="#ff2020" stroke-width="0.62"/>
<path d="M379.14 404.16H383.34M381.24 402.56V405.76" stroke="#ff2020" stroke-width="0.62"/>
<path d="M379.14 402.72H383.34M381.24 401.12V404.32" stroke="#ff2020" stroke-width="0.62"/>
<path d="M379.14 400.38H383.34M381.24 398.78V401.98" stroke="#ff2020" stroke-width="0.62"/>
<path d="M379.14 398.4H383.34M381.24 396.8V400" stroke="#ff2020" stroke-width="0.62"/>
<line x1="411.48" y1="425.25" x2="411.48" y2="405.4" stroke="#5a5a5a" stroke-width="0.7" stroke-dasharray="4,2.6"/>
<line x1="411.48" y1="439.1" x2="411.48" y2="456.6" stroke="#5a5a5a" stroke-width="0.7" stroke-dasharray="4,2.6"/>
<line x1="407.68" y1="405.4" x2="415.28" y2="405.4" stroke="#444" stroke-width="0.8" />
<line x1="407.68" y1="456.6" x2="415.28" y2="456.6" stroke="#444" stroke-width="0.8" />
<rect x="403.78" y="425.25" width="15.4" height="13.85" fill="none" stroke="#7676ff" stroke-width="0.8"/>
<line x1="404.18" y1="432.2" x2="418.78" y2="432.2" stroke="#ff6a6a" stroke-width="0.8" />
<path d="M409.38 404.97H413.58M411.48 403.37V406.57" stroke="#ff2020" stroke-width="0.62"/>
<path d="M409.38 404.12H413.58M411.48 402.52V405.72" stroke="#ff2020" stroke-width="0.62"/>
<path d="M409.38 403.26H413.58M411.48 401.66V404.86" stroke="#ff2020" stroke-width="0.62"/>
<path d="M409.38 402.99H413.58M411.48 401.39V404.59" stroke="#ff2020" stroke-width="0.62"/>
<path d="M409.38 402.72H413.58M411.48 401.12V404.32" stroke="#ff2020" stroke-width="0.62"/>
<path d="M409.38 401.55H413.58M411.48 399.95V403.15" stroke="#ff2020" stroke-width="0.62"/>
<path d="M409.38 399.84H413.58M411.48 398.24V401.44" stroke="#ff2020" stroke-width="0.62"/>
<path d="M409.38 397.05H413.58M411.48 395.45V398.65" stroke="#ff2020" stroke-width="0.62"/>
<path d="M409.38 394.7H413.58M411.48 393.1V396.3" stroke="#ff2020" stroke-width="0.62"/>
<line x1="441.72" y1="424.3" x2="441.72" y2="402.4" stroke="#5a5a5a" stroke-width="0.7" stroke-dasharray="4,2.6"/>
<line x1="441.72" y1="439.7" x2="441.72" y2="457.9" stroke="#5a5a5a" stroke-width="0.7" stroke-dasharray="4,2.6"/>
<line x1="437.92" y1="402.4" x2="445.52" y2="402.4" stroke="#444" stroke-width="0.8" />
<line x1="437.92" y1="457.9" x2="445.52" y2="457.9" stroke="#444" stroke-width="0.8" />
<rect x="434.02" y="424.3" width="15.4" height="15.4" fill="none" stroke="#7676ff" stroke-width="0.8"/>
<line x1="434.42" y1="432.6" x2="449.02" y2="432.6" stroke="#ff6a6a" stroke-width="0.8" />
<path d="M439.62 401.9H443.82M441.72 400.3V403.5" stroke="#ff2020" stroke-width="0.62"/>
<path d="M439.62 400.91H443.82M441.72 399.31V402.51" stroke="#ff2020" stroke-width="0.62"/>
<path d="M439.62 399.92H443.82M441.72 398.32V401.52" stroke="#ff2020" stroke-width="0.62"/>
<path d="M439.62 399.61H443.82M441.72 398.01V401.21" stroke="#ff2020" stroke-width="0.62"/>
<path d="M439.62 399.3H443.82M441.72 397.7V400.9" stroke="#ff2020" stroke-width="0.62"/>
<path d="M439.62 397.94H443.82M441.72 396.34V399.54" stroke="#ff2020" stroke-width="0.62"/>
<path d="M439.62 395.95H443.82M441.72 394.35V397.55" stroke="#ff2020" stroke-width="0.62"/>
<path d="M439.62 392.73H443.82M441.72 391.13V394.33" stroke="#ff2020" stroke-width="0.62"/>
<path d="M439.62 390H443.82M441.72 388.4V391.6" stroke="#ff2020" stroke-width="0.62"/>
<line x1="471.96" y1="423.8" x2="471.96" y2="400.3" stroke="#5a5a5a" stroke-width="0.7" stroke-dasharray="4,2.6"/>
<line x1="471.96" y1="440.2" x2="471.96" y2="459.3" stroke="#5a5a5a" stroke-width="0.7" stroke-dasharray="4,2.6"/>
<line x1="468.16" y1="400.3" x2="475.76" y2="400.3" stroke="#444" stroke-width="0.8" />
<line x1="468.16" y1="459.3" x2="475.76" y2="459.3" stroke="#444" stroke-width="0.8" />
<rect x="464.26" y="423.8" width="15.4" height="16.4" fill="none" stroke="#7676ff" stroke-width="0.8"/>
<line x1="464.66" y1="432.65" x2="479.26" y2="432.65" stroke="#ff6a6a" stroke-width="0.8" />
<path d="M469.86 399.69H474.06M471.96 398.09V401.29" stroke="#ff2020" stroke-width="0.62"/>
<path d="M469.86 398.46H474.06M471.96 396.86V400.06" stroke="#ff2020" stroke-width="0.62"/>
<path d="M469.86 397.24H474.06M471.96 395.64V398.84" stroke="#ff2020" stroke-width="0.62"/>
<path d="M469.86 396.86H474.06M471.96 395.26V398.46" stroke="#ff2020" stroke-width="0.62"/>
<path d="M469.86 396.48H474.06M471.96 394.88V398.08" stroke="#ff2020" stroke-width="0.62"/>
<path d="M469.86 394.79H474.06M471.96 393.19V396.39" stroke="#ff2020" stroke-width="0.62"/>
<path d="M469.86 392.34H474.06M471.96 390.74V393.94" stroke="#ff2020" stroke-width="0.62"/>
<path d="M469.86 388.37H474.06M471.96 386.77V389.97" stroke="#ff2020" stroke-width="0.62"/>
<path d="M469.86 385H474.06M471.96 383.4V386.6" stroke="#ff2020" stroke-width="0.62"/>
<line x1="502.2" y1="423.2" x2="502.2" y2="395.7" stroke="#5a5a5a" stroke-width="0.7" stroke-dasharray="4,2.6"/>
<line x1="502.2" y1="441.25" x2="502.2" y2="461.3" stroke="#5a5a5a" stroke-width="0.7" stroke-dasharray="4,2.6"/>
<line x1="498.4" y1="395.7" x2="506" y2="395.7" stroke="#444" stroke-width="0.8" />
<line x1="498.4" y1="461.3" x2="506" y2="461.3" stroke="#444" stroke-width="0.8" />
<rect x="494.5" y="423.2" width="15.4" height="18.05" fill="none" stroke="#7676ff" stroke-width="0.8"/>
<line x1="494.9" y1="433.5" x2="509.5" y2="433.5" stroke="#ff6a6a" stroke-width="0.8" />
<path d="M500.1 395.07H504.3M502.2 393.47V396.67" stroke="#ff2020" stroke-width="0.62"/>
<path d="M500.1 393.82H504.3M502.2 392.22V395.42" stroke="#ff2020" stroke-width="0.62"/>
<path d="M500.1 392.56H504.3M502.2 390.96V394.16" stroke="#ff2020" stroke-width="0.62"/>
<path d="M500.1 392.17H504.3M502.2 390.57V393.77" stroke="#ff2020" stroke-width="0.62"/>
<path d="M500.1 391.77H504.3M502.2 390.17V393.38" stroke="#ff2020" stroke-width="0.62"/>
<path d="M500.1 390.05H504.3M502.2 388.45V391.65" stroke="#ff2020" stroke-width="0.62"/>
<path d="M500.1 387.54H504.3M502.2 385.94V389.14" stroke="#ff2020" stroke-width="0.62"/>
<path d="M500.1 383.45H504.3M502.2 381.85V385.05" stroke="#ff2020" stroke-width="0.62"/>
<path d="M500.1 380H504.3M502.2 378.4V381.6" stroke="#ff2020" stroke-width="0.62"/>
<line x1="532.44" y1="422.4" x2="532.44" y2="392.2" stroke="#5a5a5a" stroke-width="0.7" stroke-dasharray="4,2.6"/>
<line x1="532.44" y1="442.5" x2="532.44" y2="463.4" stroke="#5a5a5a" stroke-width="0.7" stroke-dasharray="4,2.6"/>
<line x1="528.64" y1="392.2" x2="536.24" y2="392.2" stroke="#444" stroke-width="0.8" />
<line x1="528.64" y1="463.4" x2="536.24" y2="463.4" stroke="#444" stroke-width="0.8" />
<rect x="524.74" y="422.4" width="15.4" height="20.1" fill="none" stroke="#7676ff" stroke-width="0.8"/>
<line x1="525.14" y1="433.5" x2="539.74" y2="433.5" stroke="#ff6a6a" stroke-width="0.8" />
<path d="M530.34 391.45H534.54M532.44 389.85V393.05" stroke="#ff2020" stroke-width="0.62"/>
<path d="M530.34 389.94H534.54M532.44 388.34V391.54" stroke="#ff2020" stroke-width="0.62"/>
<path d="M530.34 388.44H534.54M532.44 386.84V390.04" stroke="#ff2020" stroke-width="0.62"/>
<path d="M530.34 387.97H534.54M532.44 386.37V389.57" stroke="#ff2020" stroke-width="0.62"/>
<path d="M530.34 387.5H534.54M532.44 385.9V389.1" stroke="#ff2020" stroke-width="0.62"/>
<path d="M530.34 385.43H534.54M532.44 383.83V387.03" stroke="#ff2020" stroke-width="0.62"/>
<path d="M530.34 382.42H534.54M532.44 380.82V384.02" stroke="#ff2020" stroke-width="0.62"/>
<path d="M530.34 377.54H534.54M532.44 375.94V379.14" stroke="#ff2020" stroke-width="0.62"/>
<path d="M530.34 373.4H534.54M532.44 371.8V375" stroke="#ff2020" stroke-width="0.62"/>
<line x1="562.68" y1="421.8" x2="562.68" y2="389.1" stroke="#5a5a5a" stroke-width="0.7" stroke-dasharray="4,2.6"/>
<line x1="562.68" y1="443.7" x2="562.68" y2="465.8" stroke="#5a5a5a" stroke-width="0.7" stroke-dasharray="4,2.6"/>
<line x1="558.88" y1="389.1" x2="566.48" y2="389.1" stroke="#444" stroke-width="0.8" />
<line x1="558.88" y1="465.8" x2="566.48" y2="465.8" stroke="#444" stroke-width="0.8" />
<rect x="554.98" y="421.8" width="15.4" height="21.9" fill="none" stroke="#7676ff" stroke-width="0.8"/>
<line x1="555.38" y1="433.5" x2="569.98" y2="433.5" stroke="#ff6a6a" stroke-width="0.8" />
<path d="M560.58 388.21H564.78M562.68 386.61V389.81" stroke="#ff2020" stroke-width="0.62"/>
<path d="M560.58 386.44H564.78M562.68 384.84V388.04" stroke="#ff2020" stroke-width="0.62"/>
<path d="M560.58 384.66H564.78M562.68 383.06V386.26" stroke="#ff2020" stroke-width="0.62"/>
<path d="M560.58 384.11H564.78M562.68 382.5V385.71" stroke="#ff2020" stroke-width="0.62"/>
<path d="M560.58 383.55H564.78M562.68 381.95V385.15" stroke="#ff2020" stroke-width="0.62"/>
<path d="M560.58 381.11H564.78M562.68 379.51V382.71" stroke="#ff2020" stroke-width="0.62"/>
<path d="M560.58 377.56H564.78M562.68 375.96V379.16" stroke="#ff2020" stroke-width="0.62"/>
<path d="M560.58 371.78H564.78M562.68 370.18V373.38" stroke="#ff2020" stroke-width="0.62"/>
<path d="M560.58 366.9H564.78M562.68 365.3V368.5" stroke="#ff2020" stroke-width="0.62"/>
<line x1="592.92" y1="421.2" x2="592.92" y2="386.3" stroke="#5a5a5a" stroke-width="0.7" stroke-dasharray="4,2.6"/>
<line x1="592.92" y1="445" x2="592.92" y2="468.9" stroke="#5a5a5a" stroke-width="0.7" stroke-dasharray="4,2.6"/>
<line x1="589.12" y1="386.3" x2="596.72" y2="386.3" stroke="#444" stroke-width="0.8" />
<line x1="589.12" y1="468.9" x2="596.72" y2="468.9" stroke="#444" stroke-width="0.8" />
<rect x="585.22" y="421.2" width="15.4" height="23.8" fill="none" stroke="#7676ff" stroke-width="0.8"/>
<line x1="585.62" y1="433.5" x2="600.22" y2="433.5" stroke="#ff6a6a" stroke-width="0.8" />
<path d="M590.82 385.29H595.02M592.92 383.69V386.89" stroke="#ff2020" stroke-width="0.62"/>
<path d="M590.82 383.26H595.02M592.92 381.66V384.86" stroke="#ff2020" stroke-width="0.62"/>
<path d="M590.82 381.24H595.02M592.92 379.64V382.84" stroke="#ff2020" stroke-width="0.62"/>
<path d="M590.82 380.61H595.02M592.92 379.01V382.21" stroke="#ff2020" stroke-width="0.62"/>
<path d="M590.82 379.98H595.02M592.92 378.38V381.58" stroke="#ff2020" stroke-width="0.62"/>
<path d="M590.82 377.19H595.02M592.92 375.59V378.79" stroke="#ff2020" stroke-width="0.62"/>
<path d="M590.82 373.14H595.02M592.92 371.54V374.74" stroke="#ff2020" stroke-width="0.62"/>
<path d="M590.82 366.57H595.02M592.92 364.97V368.17" stroke="#ff2020" stroke-width="0.62"/>
<path d="M590.82 361H595.02M592.92 359.4V362.6" stroke="#ff2020" stroke-width="0.62"/>
<line x1="623.16" y1="420.4" x2="623.16" y2="382.3" stroke="#5a5a5a" stroke-width="0.7" stroke-dasharray="4,2.6"/>
<line x1="623.16" y1="446.4" x2="623.16" y2="472.4" stroke="#5a5a5a" stroke-width="0.7" stroke-dasharray="4,2.6"/>
<line x1="619.36" y1="382.3" x2="626.96" y2="382.3" stroke="#444" stroke-width="0.8" />
<line x1="619.36" y1="472.4" x2="626.96" y2="472.4" stroke="#444" stroke-width="0.8" />
<rect x="615.46" y="420.4" width="15.4" height="26" fill="none" stroke="#7676ff" stroke-width="0.8"/>
<line x1="615.86" y1="434.3" x2="630.46" y2="434.3" stroke="#ff6a6a" stroke-width="0.8" />
<path d="M621.06 381.22H625.26M623.16 379.62V382.82" stroke="#ff2020" stroke-width="0.62"/>
<path d="M621.06 379.05H625.26M623.16 377.45V380.65" stroke="#ff2020" stroke-width="0.62"/>
<path d="M621.06 376.88H625.26M623.16 375.28V378.48" stroke="#ff2020" stroke-width="0.62"/>
<path d="M621.06 376.2H625.26M623.16 374.6V377.8" stroke="#ff2020" stroke-width="0.62"/>
<path d="M621.06 375.52H625.26M623.16 373.92V377.12" stroke="#ff2020" stroke-width="0.62"/>
<path d="M621.06 372.54H625.26M623.16 370.94V374.14" stroke="#ff2020" stroke-width="0.62"/>
<path d="M621.06 368.21H625.26M623.16 366.61V369.81" stroke="#ff2020" stroke-width="0.62"/>
<path d="M621.06 361.16H625.26M623.16 359.56V362.76" stroke="#ff2020" stroke-width="0.62"/>
<path d="M621.06 355.2H625.26M623.16 353.6V356.8" stroke="#ff2020" stroke-width="0.62"/>
<line x1="47.4" y1="431.45" x2="638.3" y2="431.45" stroke="#1a1a1a" stroke-width="1.1" stroke-dasharray="4.4,2.0"/>
<text x="335.7" y="342.9" text-anchor="middle" font-size="14.2" fill="#111" font-family="Liberation Serif">(<tspan font-style="italic">c</tspan>)</text>
<text style="stroke:none" transform="translate(15.1,413.9) rotate(-90) scale(1.13,1)" text-anchor="middle" font-size="13.2" fill="#111" font-family="Liberation Serif" font-style="italic" letter-spacing="0.75">EAM<tspan font-style="normal" font-size="14">(</tspan><tspan dx="0.3">τ</tspan><tspan font-style="normal" font-size="14" dx="-0.4">)</tspan></text>
<line x1="48.6" y1="636.4" x2="48.6" y2="630.8" stroke="#777" stroke-width="0.8" />
<line x1="48.6" y1="507.6" x2="48.6" y2="513.2" stroke="#777" stroke-width="0.8" />
<text class="t" x="48.6" y="646.4" text-anchor="middle" font-size="6.6" fill="#2a2a2a" >280</text>
<line x1="78.84" y1="636.4" x2="78.84" y2="630.8" stroke="#777" stroke-width="0.8" />
<line x1="78.84" y1="507.6" x2="78.84" y2="513.2" stroke="#777" stroke-width="0.8" />
<text class="t" x="78.84" y="646.4" text-anchor="middle" font-size="6.6" fill="#2a2a2a" >281</text>
<line x1="109.08" y1="636.4" x2="109.08" y2="630.8" stroke="#777" stroke-width="0.8" />
<line x1="109.08" y1="507.6" x2="109.08" y2="513.2" stroke="#777" stroke-width="0.8" />
<text class="t" x="109.08" y="646.4" text-anchor="middle" font-size="6.6" fill="#2a2a2a" >282</text>
<line x1="139.32" y1="636.4" x2="139.32" y2="630.8" stroke="#777" stroke-width="0.8" />
<line x1="139.32" y1="507.6" x2="139.32" y2="513.2" stroke="#777" stroke-width="0.8" />
<text class="t" x="139.32" y="646.4" text-anchor="middle" font-size="6.6" fill="#2a2a2a" >283</text>
<line x1="169.56" y1="636.4" x2="169.56" y2="630.8" stroke="#777" stroke-width="0.8" />
<line x1="169.56" y1="507.6" x2="169.56" y2="513.2" stroke="#777" stroke-width="0.8" />
<text class="t" x="169.56" y="646.4" text-anchor="middle" font-size="6.6" fill="#2a2a2a" >284</text>
<line x1="199.8" y1="636.4" x2="199.8" y2="630.8" stroke="#777" stroke-width="0.8" />
<line x1="199.8" y1="507.6" x2="199.8" y2="513.2" stroke="#777" stroke-width="0.8" />
<text class="t" x="199.8" y="646.4" text-anchor="middle" font-size="6.6" fill="#2a2a2a" >285</text>
<line x1="230.04" y1="636.4" x2="230.04" y2="630.8" stroke="#777" stroke-width="0.8" />
<line x1="230.04" y1="507.6" x2="230.04" y2="513.2" stroke="#777" stroke-width="0.8" />
<text class="t" x="230.04" y="646.4" text-anchor="middle" font-size="6.6" fill="#2a2a2a" >286</text>
<line x1="260.28" y1="636.4" x2="260.28" y2="630.8" stroke="#777" stroke-width="0.8" />
<line x1="260.28" y1="507.6" x2="260.28" y2="513.2" stroke="#777" stroke-width="0.8" />
<text class="t" x="260.28" y="646.4" text-anchor="middle" font-size="6.6" fill="#2a2a2a" >287</text>
<line x1="290.52" y1="636.4" x2="290.52" y2="630.8" stroke="#777" stroke-width="0.8" />
<line x1="290.52" y1="507.6" x2="290.52" y2="513.2" stroke="#777" stroke-width="0.8" />
<text class="t" x="290.52" y="646.4" text-anchor="middle" font-size="6.6" fill="#2a2a2a" >288</text>
<line x1="320.76" y1="636.4" x2="320.76" y2="630.8" stroke="#777" stroke-width="0.8" />
<line x1="320.76" y1="507.6" x2="320.76" y2="513.2" stroke="#777" stroke-width="0.8" />
<text class="t" x="320.76" y="646.4" text-anchor="middle" font-size="6.6" fill="#2a2a2a" >289</text>
<line x1="351" y1="636.4" x2="351" y2="630.8" stroke="#777" stroke-width="0.8" />
<line x1="351" y1="507.6" x2="351" y2="513.2" stroke="#777" stroke-width="0.8" />
<text class="t" x="351" y="646.4" text-anchor="middle" font-size="6.6" fill="#2a2a2a" >290</text>
<line x1="381.24" y1="636.4" x2="381.24" y2="630.8" stroke="#777" stroke-width="0.8" />
<line x1="381.24" y1="507.6" x2="381.24" y2="513.2" stroke="#777" stroke-width="0.8" />
<text class="t" x="381.24" y="646.4" text-anchor="middle" font-size="6.6" fill="#2a2a2a" >291</text>
<line x1="411.48" y1="636.4" x2="411.48" y2="630.8" stroke="#777" stroke-width="0.8" />
<line x1="411.48" y1="507.6" x2="411.48" y2="513.2" stroke="#777" stroke-width="0.8" />
<text class="t" x="411.48" y="646.4" text-anchor="middle" font-size="6.6" fill="#2a2a2a" >292</text>
<line x1="441.72" y1="636.4" x2="441.72" y2="630.8" stroke="#777" stroke-width="0.8" />
<line x1="441.72" y1="507.6" x2="441.72" y2="513.2" stroke="#777" stroke-width="0.8" />
<text class="t" x="441.72" y="646.4" text-anchor="middle" font-size="6.6" fill="#2a2a2a" >293</text>
<line x1="471.96" y1="636.4" x2="471.96" y2="630.8" stroke="#777" stroke-width="0.8" />
<line x1="471.96" y1="507.6" x2="471.96" y2="513.2" stroke="#777" stroke-width="0.8" />
<text class="t" x="471.96" y="646.4" text-anchor="middle" font-size="6.6" fill="#2a2a2a" >294</text>
<line x1="502.2" y1="636.4" x2="502.2" y2="630.8" stroke="#777" stroke-width="0.8" />
<line x1="502.2" y1="507.6" x2="502.2" y2="513.2" stroke="#777" stroke-width="0.8" />
<text class="t" x="502.2" y="646.4" text-anchor="middle" font-size="6.6" fill="#2a2a2a" >295</text>
<line x1="532.44" y1="636.4" x2="532.44" y2="630.8" stroke="#777" stroke-width="0.8" />
<line x1="532.44" y1="507.6" x2="532.44" y2="513.2" stroke="#777" stroke-width="0.8" />
<text class="t" x="532.44" y="646.4" text-anchor="middle" font-size="6.6" fill="#2a2a2a" >296</text>
<line x1="562.68" y1="636.4" x2="562.68" y2="630.8" stroke="#777" stroke-width="0.8" />
<line x1="562.68" y1="507.6" x2="562.68" y2="513.2" stroke="#777" stroke-width="0.8" />
<text class="t" x="562.68" y="646.4" text-anchor="middle" font-size="6.6" fill="#2a2a2a" >297</text>
<line x1="592.92" y1="636.4" x2="592.92" y2="630.8" stroke="#777" stroke-width="0.8" />
<line x1="592.92" y1="507.6" x2="592.92" y2="513.2" stroke="#777" stroke-width="0.8" />
<text class="t" x="592.92" y="646.4" text-anchor="middle" font-size="6.6" fill="#2a2a2a" >298</text>
<line x1="623.16" y1="636.4" x2="623.16" y2="630.8" stroke="#777" stroke-width="0.8" />
<line x1="623.16" y1="507.6" x2="623.16" y2="513.2" stroke="#777" stroke-width="0.8" />
<text class="t" x="623.16" y="646.4" text-anchor="middle" font-size="6.6" fill="#2a2a2a" >299</text>
<line x1="33.4" y1="512.09" x2="39" y2="512.09" stroke="#a9a9a9" stroke-width="0.9" />
<line x1="638.3" y1="512.09" x2="632.7" y2="512.09" stroke="#a9a9a9" stroke-width="0.9" />
<text class="t" x="30.6" y="514.99" text-anchor="end" font-size="6.6" fill="#2a2a2a" >3500</text>
<line x1="33.4" y1="527.27" x2="39" y2="527.27" stroke="#a9a9a9" stroke-width="0.9" />
<line x1="638.3" y1="527.27" x2="632.7" y2="527.27" stroke="#a9a9a9" stroke-width="0.9" />
<text class="t" x="30.6" y="530.17" text-anchor="end" font-size="6.6" fill="#2a2a2a" >3000</text>
<line x1="33.4" y1="542.45" x2="39" y2="542.45" stroke="#a9a9a9" stroke-width="0.9" />
<line x1="638.3" y1="542.45" x2="632.7" y2="542.45" stroke="#a9a9a9" stroke-width="0.9" />
<text class="t" x="30.6" y="545.35" text-anchor="end" font-size="6.6" fill="#2a2a2a" >2500</text>
<line x1="33.4" y1="557.63" x2="39" y2="557.63" stroke="#a9a9a9" stroke-width="0.9" />
<line x1="638.3" y1="557.63" x2="632.7" y2="557.63" stroke="#a9a9a9" stroke-width="0.9" />
<text class="t" x="30.6" y="560.53" text-anchor="end" font-size="6.6" fill="#2a2a2a" >2000</text>
<line x1="33.4" y1="572.81" x2="39" y2="572.81" stroke="#a9a9a9" stroke-width="0.9" />
<line x1="638.3" y1="572.81" x2="632.7" y2="572.81" stroke="#a9a9a9" stroke-width="0.9" />
<text class="t" x="30.6" y="575.71" text-anchor="end" font-size="6.6" fill="#2a2a2a" >1500</text>
<line x1="33.4" y1="587.99" x2="39" y2="587.99" stroke="#a9a9a9" stroke-width="0.9" />
<line x1="638.3" y1="587.99" x2="632.7" y2="587.99" stroke="#a9a9a9" stroke-width="0.9" />
<text class="t" x="30.6" y="590.89" text-anchor="end" font-size="6.6" fill="#2a2a2a" >1000</text>
<line x1="33.4" y1="603.17" x2="39" y2="603.17" stroke="#a9a9a9" stroke-width="0.9" />
<line x1="638.3" y1="603.17" x2="632.7" y2="603.17" stroke="#a9a9a9" stroke-width="0.9" />
<text class="t" x="30.6" y="606.07" text-anchor="end" font-size="6.6" fill="#2a2a2a" >500</text>
<line x1="33.4" y1="618.35" x2="39" y2="618.35" stroke="#a9a9a9" stroke-width="0.9" />
<line x1="638.3" y1="618.35" x2="632.7" y2="618.35" stroke="#a9a9a9" stroke-width="0.9" />
<text class="t" x="30.6" y="621.25" text-anchor="end" font-size="6.6" fill="#2a2a2a" >0</text>
<line x1="33.4" y1="633.53" x2="39" y2="633.53" stroke="#a9a9a9" stroke-width="0.9" />
<line x1="638.3" y1="633.53" x2="632.7" y2="633.53" stroke="#a9a9a9" stroke-width="0.9" />
<text class="t" x="30.6" y="636.43" text-anchor="end" font-size="6.6" fill="#2a2a2a" >-500</text>
<rect x="33.4" y="507.6" width="604.90" height="128.80" fill="none" stroke="#c3c3c3" stroke-width="1.25"/>
<line x1="48.6" y1="615.3" x2="48.6" y2="600.3" stroke="#5a5a5a" stroke-width="0.7" stroke-dasharray="4,2.6"/>
<line x1="48.6" y1="625.9" x2="48.6" y2="629.4" stroke="#5a5a5a" stroke-width="0.7" stroke-dasharray="4,2.6"/>
<line x1="44.8" y1="600.3" x2="52.4" y2="600.3" stroke="#444" stroke-width="0.8" />
<line x1="44.8" y1="629.4" x2="52.4" y2="629.4" stroke="#444" stroke-width="0.8" />
<rect x="40.9" y="615.3" width="15.4" height="10.6" fill="none" stroke="#7676ff" stroke-width="0.8"/>
<line x1="41.3" y1="622.5" x2="55.9" y2="622.5" stroke="#ff6a6a" stroke-width="0.8" />
<rect x="46.6" y="584.8" width="4" height="15" fill="#ff3030" opacity="0.55"/>
<path d="M46.3 599.3H50.9M48.6 597.7V600.9" stroke="#ff2020" stroke-width="0.62"/>
<path d="M46.3 597.8H50.9M48.6 596.2V599.4" stroke="#ff2020" stroke-width="0.62"/>
<path d="M46.3 596.3H50.9M48.6 594.7V597.9" stroke="#ff2020" stroke-width="0.62"/>
<path d="M46.3 594.8H50.9M48.6 593.2V596.4" stroke="#ff2020" stroke-width="0.62"/>
<path d="M46.3 593.3H50.9M48.6 591.7V594.9" stroke="#ff2020" stroke-width="0.62"/>
<path d="M46.3 591.8H50.9M48.6 590.2V593.4" stroke="#ff2020" stroke-width="0.62"/>
<path d="M46.3 590.3H50.9M48.6 588.7V591.9" stroke="#ff2020" stroke-width="0.62"/>
<path d="M46.3 588.8H50.9M48.6 587.2V590.4" stroke="#ff2020" stroke-width="0.62"/>
<path d="M46.3 587.3H50.9M48.6 585.7V588.9" stroke="#ff2020" stroke-width="0.62"/>
<path d="M46.3 585.8H50.9M48.6 584.2V587.4" stroke="#ff2020" stroke-width="0.62"/>
<path d="M46.5 582.8H50.7M48.6 581.2V584.4" stroke="#ff2020" stroke-width="0.62"/>
<path d="M46.5 579.8H50.7M48.6 578.2V581.4" stroke="#ff2020" stroke-width="0.62"/>
<path d="M46.5 576.3H50.7M48.6 574.7V577.9" stroke="#ff2020" stroke-width="0.62"/>
<path d="M46.5 573.3H50.7M48.6 571.7V574.9" stroke="#ff2020" stroke-width="0.62"/>
<path d="M46.5 570.8H50.7M48.6 569.2V572.4" stroke="#ff2020" stroke-width="0.62"/>
<path d="M46.5 568.3H50.7M48.6 566.7V569.9" stroke="#ff2020" stroke-width="0.62"/>
<path d="M46.5 565.8H50.7M48.6 564.2V567.4" stroke="#ff2020" stroke-width="0.62"/>
<path d="M46.5 563.8H50.7M48.6 562.2V565.4" stroke="#ff2020" stroke-width="0.62"/>
<path d="M46.5 523.6H50.7M48.6 522V525.2" stroke="#ff2020" stroke-width="0.62"/>
<path d="M46.5 529.7H50.7M48.6 528.1V531.3" stroke="#ff2020" stroke-width="0.62"/>
<path d="M46.5 538.9H50.7M48.6 537.3V540.5" stroke="#ff2020" stroke-width="0.62"/>
<line x1="78.84" y1="615.3" x2="78.84" y2="600.2" stroke="#5a5a5a" stroke-width="0.7" stroke-dasharray="4,2.6"/>
<line x1="78.84" y1="625.92" x2="78.84" y2="629.43" stroke="#5a5a5a" stroke-width="0.7" stroke-dasharray="4,2.6"/>
<line x1="75.04" y1="600.2" x2="82.64" y2="600.2" stroke="#444" stroke-width="0.8" />
<line x1="75.04" y1="629.43" x2="82.64" y2="629.43" stroke="#444" stroke-width="0.8" />
<rect x="71.14" y="615.3" width="15.4" height="10.62" fill="none" stroke="#7676ff" stroke-width="0.8"/>
<line x1="71.54" y1="622.52" x2="86.14" y2="622.52" stroke="#ff6a6a" stroke-width="0.8" />
<rect x="76.84" y="584.7" width="4" height="15" fill="#ff3030" opacity="0.55"/>
<path d="M76.54 599.2H81.14M78.84 597.6V600.8" stroke="#ff2020" stroke-width="0.62"/>
<path d="M76.54 597.7H81.14M78.84 596.1V599.3" stroke="#ff2020" stroke-width="0.62"/>
<path d="M76.54 596.2H81.14M78.84 594.6V597.8" stroke="#ff2020" stroke-width="0.62"/>
<path d="M76.54 594.7H81.14M78.84 593.1V596.3" stroke="#ff2020" stroke-width="0.62"/>
<path d="M76.54 593.2H81.14M78.84 591.6V594.8" stroke="#ff2020" stroke-width="0.62"/>
<path d="M76.54 591.7H81.14M78.84 590.1V593.3" stroke="#ff2020" stroke-width="0.62"/>
<path d="M76.54 590.2H81.14M78.84 588.6V591.8" stroke="#ff2020" stroke-width="0.62"/>
<path d="M76.54 588.7H81.14M78.84 587.1V590.3" stroke="#ff2020" stroke-width="0.62"/>
<path d="M76.54 587.2H81.14M78.84 585.6V588.8" stroke="#ff2020" stroke-width="0.62"/>
<path d="M76.54 585.7H81.14M78.84 584.1V587.3" stroke="#ff2020" stroke-width="0.62"/>
<path d="M76.74 582.54H80.94M78.84 580.94V584.14" stroke="#ff2020" stroke-width="0.62"/>
<path d="M76.74 579.52H80.94M78.84 577.92V581.12" stroke="#ff2020" stroke-width="0.62"/>
<path d="M76.74 575.99H80.94M78.84 574.39V577.59" stroke="#ff2020" stroke-width="0.62"/>
<path d="M76.74 572.96H80.94M78.84 571.36V574.56" stroke="#ff2020" stroke-width="0.62"/>
<path d="M76.74 570.44H80.94M78.84 568.84V572.04" stroke="#ff2020" stroke-width="0.62"/>
<path d="M76.74 567.91H80.94M78.84 566.31V569.51" stroke="#ff2020" stroke-width="0.62"/>
<path d="M76.74 565.39H80.94M78.84 563.79V566.99" stroke="#ff2020" stroke-width="0.62"/>
<path d="M76.74 563.37H80.94M78.84 561.77V564.97" stroke="#ff2020" stroke-width="0.62"/>
<path d="M76.74 523.07H80.94M78.84 521.47V524.67" stroke="#ff2020" stroke-width="0.62"/>
<path d="M76.74 528.9H80.94M78.84 527.3V530.5" stroke="#ff2020" stroke-width="0.62"/>
<path d="M76.74 538.34H80.94M78.84 536.74V539.94" stroke="#ff2020" stroke-width="0.62"/>
<line x1="109.08" y1="615.3" x2="109.08" y2="600.1" stroke="#5a5a5a" stroke-width="0.7" stroke-dasharray="4,2.6"/>
<line x1="109.08" y1="625.94" x2="109.08" y2="629.46" stroke="#5a5a5a" stroke-width="0.7" stroke-dasharray="4,2.6"/>
<line x1="105.28" y1="600.1" x2="112.88" y2="600.1" stroke="#444" stroke-width="0.8" />
<line x1="105.28" y1="629.46" x2="112.88" y2="629.46" stroke="#444" stroke-width="0.8" />
<rect x="101.38" y="615.3" width="15.4" height="10.64" fill="none" stroke="#7676ff" stroke-width="0.8"/>
<line x1="101.78" y1="622.54" x2="116.38" y2="622.54" stroke="#ff6a6a" stroke-width="0.8" />
<rect x="107.08" y="584.6" width="4" height="15" fill="#ff3030" opacity="0.55"/>
<path d="M106.78 599.1H111.38M109.08 597.5V600.7" stroke="#ff2020" stroke-width="0.62"/>
<path d="M106.78 597.6H111.38M109.08 596V599.2" stroke="#ff2020" stroke-width="0.62"/>
<path d="M106.78 596.1H111.38M109.08 594.5V597.7" stroke="#ff2020" stroke-width="0.62"/>
<path d="M106.78 594.6H111.38M109.08 593V596.2" stroke="#ff2020" stroke-width="0.62"/>
<path d="M106.78 593.1H111.38M109.08 591.5V594.7" stroke="#ff2020" stroke-width="0.62"/>
<path d="M106.78 591.6H111.38M109.08 590V593.2" stroke="#ff2020" stroke-width="0.62"/>
<path d="M106.78 590.1H111.38M109.08 588.5V591.7" stroke="#ff2020" stroke-width="0.62"/>
<path d="M106.78 588.6H111.38M109.08 587V590.2" stroke="#ff2020" stroke-width="0.62"/>
<path d="M106.78 587.1H111.38M109.08 585.5V588.7" stroke="#ff2020" stroke-width="0.62"/>
<path d="M106.78 585.6H111.38M109.08 584V587.2" stroke="#ff2020" stroke-width="0.62"/>
<path d="M106.98 582.29H111.18M109.08 580.69V583.89" stroke="#ff2020" stroke-width="0.62"/>
<path d="M106.98 579.23H111.18M109.08 577.63V580.83" stroke="#ff2020" stroke-width="0.62"/>
<path d="M106.98 575.67H111.18M109.08 574.07V577.27" stroke="#ff2020" stroke-width="0.62"/>
<path d="M106.98 572.62H111.18M109.08 571.02V574.22" stroke="#ff2020" stroke-width="0.62"/>
<path d="M106.98 570.07H111.18M109.08 568.47V571.67" stroke="#ff2020" stroke-width="0.62"/>
<path d="M106.98 567.53H111.18M109.08 565.93V569.13" stroke="#ff2020" stroke-width="0.62"/>
<path d="M106.98 564.98H111.18M109.08 563.38V566.58" stroke="#ff2020" stroke-width="0.62"/>
<path d="M106.98 562.95H111.18M109.08 561.35V564.55" stroke="#ff2020" stroke-width="0.62"/>
<path d="M106.98 522.54H111.18M109.08 520.94V524.14" stroke="#ff2020" stroke-width="0.62"/>
<path d="M106.98 528.1H111.18M109.08 526.5V529.7" stroke="#ff2020" stroke-width="0.62"/>
<path d="M106.98 537.78H111.18M109.08 536.18V539.38" stroke="#ff2020" stroke-width="0.62"/>
<line x1="139.32" y1="615.3" x2="139.32" y2="600" stroke="#5a5a5a" stroke-width="0.7" stroke-dasharray="4,2.6"/>
<line x1="139.32" y1="625.96" x2="139.32" y2="629.49" stroke="#5a5a5a" stroke-width="0.7" stroke-dasharray="4,2.6"/>
<line x1="135.52" y1="600" x2="143.12" y2="600" stroke="#444" stroke-width="0.8" />
<line x1="135.52" y1="629.49" x2="143.12" y2="629.49" stroke="#444" stroke-width="0.8" />
<rect x="131.62" y="615.3" width="15.4" height="10.66" fill="none" stroke="#7676ff" stroke-width="0.8"/>
<line x1="132.02" y1="622.56" x2="146.62" y2="622.56" stroke="#ff6a6a" stroke-width="0.8" />
<rect x="137.32" y="584.5" width="4" height="15" fill="#ff3030" opacity="0.55"/>
<path d="M137.02 599H141.62M139.32 597.4V600.6" stroke="#ff2020" stroke-width="0.62"/>
<path d="M137.02 597.5H141.62M139.32 595.9V599.1" stroke="#ff2020" stroke-width="0.62"/>
<path d="M137.02 596H141.62M139.32 594.4V597.6" stroke="#ff2020" stroke-width="0.62"/>
<path d="M137.02 594.5H141.62M139.32 592.9V596.1" stroke="#ff2020" stroke-width="0.62"/>
<path d="M137.02 593H141.62M139.32 591.4V594.6" stroke="#ff2020" stroke-width="0.62"/>
<path d="M137.02 591.5H141.62M139.32 589.9V593.1" stroke="#ff2020" stroke-width="0.62"/>
<path d="M137.02 590H141.62M139.32 588.4V591.6" stroke="#ff2020" stroke-width="0.62"/>
<path d="M137.02 588.5H141.62M139.32 586.9V590.1" stroke="#ff2020" stroke-width="0.62"/>
<path d="M137.02 587H141.62M139.32 585.4V588.6" stroke="#ff2020" stroke-width="0.62"/>
<path d="M137.02 585.5H141.62M139.32 583.9V587.1" stroke="#ff2020" stroke-width="0.62"/>
<path d="M137.22 582.03H141.42M139.32 580.43V583.63" stroke="#ff2020" stroke-width="0.62"/>
<path d="M137.22 578.95H141.42M139.32 577.35V580.55" stroke="#ff2020" stroke-width="0.62"/>
<path d="M137.22 575.36H141.42M139.32 573.76V576.96" stroke="#ff2020" stroke-width="0.62"/>
<path d="M137.22 572.28H141.42M139.32 570.68V573.88" stroke="#ff2020" stroke-width="0.62"/>
<path d="M137.22 569.71H141.42M139.32 568.11V571.31" stroke="#ff2020" stroke-width="0.62"/>
<path d="M137.22 567.14H141.42M139.32 565.54V568.74" stroke="#ff2020" stroke-width="0.62"/>
<path d="M137.22 564.57H141.42M139.32 562.97V566.17" stroke="#ff2020" stroke-width="0.62"/>
<path d="M137.22 562.52H141.42M139.32 560.92V564.12" stroke="#ff2020" stroke-width="0.62"/>
<path d="M137.22 522.01H141.42M139.32 520.41V523.61" stroke="#ff2020" stroke-width="0.62"/>
<path d="M137.22 527.3H141.42M139.32 525.7V528.9" stroke="#ff2020" stroke-width="0.62"/>
<path d="M137.22 537.22H141.42M139.32 535.62V538.82" stroke="#ff2020" stroke-width="0.62"/>
<line x1="169.56" y1="615.3" x2="169.56" y2="599.9" stroke="#5a5a5a" stroke-width="0.7" stroke-dasharray="4,2.6"/>
<line x1="169.56" y1="625.98" x2="169.56" y2="629.52" stroke="#5a5a5a" stroke-width="0.7" stroke-dasharray="4,2.6"/>
<line x1="165.76" y1="599.9" x2="173.36" y2="599.9" stroke="#444" stroke-width="0.8" />
<line x1="165.76" y1="629.52" x2="173.36" y2="629.52" stroke="#444" stroke-width="0.8" />
<rect x="161.86" y="615.3" width="15.4" height="10.68" fill="none" stroke="#7676ff" stroke-width="0.8"/>
<line x1="162.26" y1="622.58" x2="176.86" y2="622.58" stroke="#ff6a6a" stroke-width="0.8" />
<rect x="167.56" y="584.4" width="4" height="15" fill="#ff3030" opacity="0.55"/>
<path d="M167.26 598.9H171.86M169.56 597.3V600.5" stroke="#ff2020" stroke-width="0.62"/>
<path d="M167.26 597.4H171.86M169.56 595.8V599" stroke="#ff2020" stroke-width="0.62"/>
<path d="M167.26 595.9H171.86M169.56 594.3V597.5" stroke="#ff2020" stroke-width="0.62"/>
<path d="M167.26 594.4H171.86M169.56 592.8V596" stroke="#ff2020" stroke-width="0.62"/>
<path d="M167.26 592.9H171.86M169.56 591.3V594.5" stroke="#ff2020" stroke-width="0.62"/>
<path d="M167.26 591.4H171.86M169.56 589.8V593" stroke="#ff2020" stroke-width="0.62"/>
<path d="M167.26 589.9H171.86M169.56 588.3V591.5" stroke="#ff2020" stroke-width="0.62"/>
<path d="M167.26 588.4H171.86M169.56 586.8V590" stroke="#ff2020" stroke-width="0.62"/>
<path d="M167.26 586.9H171.86M169.56 585.3V588.5" stroke="#ff2020" stroke-width="0.62"/>
<path d="M167.26 585.4H171.86M169.56 583.8V587" stroke="#ff2020" stroke-width="0.62"/>
<path d="M167.46 581.77H171.66M169.56 580.17V583.37" stroke="#ff2020" stroke-width="0.62"/>
<path d="M167.46 578.67H171.66M169.56 577.07V580.27" stroke="#ff2020" stroke-width="0.62"/>
<path d="M167.46 575.04H171.66M169.56 573.44V576.64" stroke="#ff2020" stroke-width="0.62"/>
<path d="M167.46 571.93H171.66M169.56 570.33V573.53" stroke="#ff2020" stroke-width="0.62"/>
<path d="M167.46 569.34H171.66M169.56 567.74V570.94" stroke="#ff2020" stroke-width="0.62"/>
<path d="M167.46 566.75H171.66M169.56 565.15V568.35" stroke="#ff2020" stroke-width="0.62"/>
<path d="M167.46 564.17H171.66M169.56 562.57V565.77" stroke="#ff2020" stroke-width="0.62"/>
<path d="M167.46 562.09H171.66M169.56 560.49V563.69" stroke="#ff2020" stroke-width="0.62"/>
<path d="M167.46 521.48H171.66M169.56 519.88V523.08" stroke="#ff2020" stroke-width="0.62"/>
<path d="M167.46 526.5H171.66M169.56 524.9V528.1" stroke="#ff2020" stroke-width="0.62"/>
<path d="M167.46 536.66H171.66M169.56 535.06V538.26" stroke="#ff2020" stroke-width="0.62"/>
<line x1="199.8" y1="615.3" x2="199.8" y2="599.8" stroke="#5a5a5a" stroke-width="0.7" stroke-dasharray="4,2.6"/>
<line x1="199.8" y1="626" x2="199.8" y2="629.55" stroke="#5a5a5a" stroke-width="0.7" stroke-dasharray="4,2.6"/>
<line x1="196" y1="599.8" x2="203.6" y2="599.8" stroke="#444" stroke-width="0.8" />
<line x1="196" y1="629.55" x2="203.6" y2="629.55" stroke="#444" stroke-width="0.8" />
<rect x="192.1" y="615.3" width="15.4" height="10.7" fill="none" stroke="#7676ff" stroke-width="0.8"/>
<line x1="192.5" y1="622.6" x2="207.1" y2="622.6" stroke="#ff6a6a" stroke-width="0.8" />
<rect x="197.8" y="584.3" width="4" height="15" fill="#ff3030" opacity="0.55"/>
<path d="M197.5 598.8H202.1M199.8 597.2V600.4" stroke="#ff2020" stroke-width="0.62"/>
<path d="M197.5 597.3H202.1M199.8 595.7V598.9" stroke="#ff2020" stroke-width="0.62"/>
<path d="M197.5 595.8H202.1M199.8 594.2V597.4" stroke="#ff2020" stroke-width="0.62"/>
<path d="M197.5 594.3H202.1M199.8 592.7V595.9" stroke="#ff2020" stroke-width="0.62"/>
<path d="M197.5 592.8H202.1M199.8 591.2V594.4" stroke="#ff2020" stroke-width="0.62"/>
<path d="M197.5 591.3H202.1M199.8 589.7V592.9" stroke="#ff2020" stroke-width="0.62"/>
<path d="M197.5 589.8H202.1M199.8 588.2V591.4" stroke="#ff2020" stroke-width="0.62"/>
<path d="M197.5 588.3H202.1M199.8 586.7V589.9" stroke="#ff2020" stroke-width="0.62"/>
<path d="M197.5 586.8H202.1M199.8 585.2V588.4" stroke="#ff2020" stroke-width="0.62"/>
<path d="M197.5 585.3H202.1M199.8 583.7V586.9" stroke="#ff2020" stroke-width="0.62"/>
<path d="M197.7 581.52H201.9M199.8 579.92V583.12" stroke="#ff2020" stroke-width="0.62"/>
<path d="M197.7 578.38H201.9M199.8 576.78V579.98" stroke="#ff2020" stroke-width="0.62"/>
<path d="M197.7 574.73H201.9M199.8 573.13V576.33" stroke="#ff2020" stroke-width="0.62"/>
<path d="M197.7 571.59H201.9M199.8 569.99V573.19" stroke="#ff2020" stroke-width="0.62"/>
<path d="M197.7 568.98H201.9M199.8 567.38V570.58" stroke="#ff2020" stroke-width="0.62"/>
<path d="M197.7 566.37H201.9M199.8 564.77V567.97" stroke="#ff2020" stroke-width="0.62"/>
<path d="M197.7 563.76H201.9M199.8 562.16V565.36" stroke="#ff2020" stroke-width="0.62"/>
<path d="M197.7 561.67H201.9M199.8 560.07V563.27" stroke="#ff2020" stroke-width="0.62"/>
<path d="M197.7 520.95H201.9M199.8 519.35V522.55" stroke="#ff2020" stroke-width="0.62"/>
<path d="M197.7 525.7H201.9M199.8 524.1V527.3" stroke="#ff2020" stroke-width="0.62"/>
<path d="M197.7 536.1H201.9M199.8 534.5V537.7" stroke="#ff2020" stroke-width="0.62"/>
<line x1="230.04" y1="615.3" x2="230.04" y2="599.7" stroke="#5a5a5a" stroke-width="0.7" stroke-dasharray="4,2.6"/>
<line x1="230.04" y1="626.02" x2="230.04" y2="629.58" stroke="#5a5a5a" stroke-width="0.7" stroke-dasharray="4,2.6"/>
<line x1="226.24" y1="599.7" x2="233.84" y2="599.7" stroke="#444" stroke-width="0.8" />
<line x1="226.24" y1="629.58" x2="233.84" y2="629.58" stroke="#444" stroke-width="0.8" />
<rect x="222.34" y="615.3" width="15.4" height="10.72" fill="none" stroke="#7676ff" stroke-width="0.8"/>
<line x1="222.74" y1="622.62" x2="237.34" y2="622.62" stroke="#ff6a6a" stroke-width="0.8" />
<rect x="228.04" y="584.2" width="4" height="15" fill="#ff3030" opacity="0.55"/>
<path d="M227.74 598.7H232.34M230.04 597.1V600.3" stroke="#ff2020" stroke-width="0.62"/>
<path d="M227.74 597.2H232.34M230.04 595.6V598.8" stroke="#ff2020" stroke-width="0.62"/>
<path d="M227.74 595.7H232.34M230.04 594.1V597.3" stroke="#ff2020" stroke-width="0.62"/>
<path d="M227.74 594.2H232.34M230.04 592.6V595.8" stroke="#ff2020" stroke-width="0.62"/>
<path d="M227.74 592.7H232.34M230.04 591.1V594.3" stroke="#ff2020" stroke-width="0.62"/>
<path d="M227.74 591.2H232.34M230.04 589.6V592.8" stroke="#ff2020" stroke-width="0.62"/>
<path d="M227.74 589.7H232.34M230.04 588.1V591.3" stroke="#ff2020" stroke-width="0.62"/>
<path d="M227.74 588.2H232.34M230.04 586.6V589.8" stroke="#ff2020" stroke-width="0.62"/>
<path d="M227.74 586.7H232.34M230.04 585.1V588.3" stroke="#ff2020" stroke-width="0.62"/>
<path d="M227.74 585.2H232.34M230.04 583.6V586.8" stroke="#ff2020" stroke-width="0.62"/>
<path d="M227.94 581.26H232.14M230.04 579.66V582.86" stroke="#ff2020" stroke-width="0.62"/>
<path d="M227.94 578.1H232.14M230.04 576.5V579.7" stroke="#ff2020" stroke-width="0.62"/>
<path d="M227.94 574.41H232.14M230.04 572.81V576.01" stroke="#ff2020" stroke-width="0.62"/>
<path d="M227.94 571.25H232.14M230.04 569.65V572.85" stroke="#ff2020" stroke-width="0.62"/>
<path d="M227.94 568.62H232.14M230.04 567.02V570.22" stroke="#ff2020" stroke-width="0.62"/>
<path d="M227.94 565.98H232.14M230.04 564.38V567.58" stroke="#ff2020" stroke-width="0.62"/>
<path d="M227.94 563.35H232.14M230.04 561.75V564.95" stroke="#ff2020" stroke-width="0.62"/>
<path d="M227.94 561.24H232.14M230.04 559.64V562.84" stroke="#ff2020" stroke-width="0.62"/>
<path d="M227.94 520.42H232.14M230.04 518.82V522.02" stroke="#ff2020" stroke-width="0.62"/>
<path d="M227.94 524.9H232.14M230.04 523.3V526.5" stroke="#ff2020" stroke-width="0.62"/>
<path d="M227.94 535.54H232.14M230.04 533.94V537.14" stroke="#ff2020" stroke-width="0.62"/>
<line x1="260.28" y1="615.3" x2="260.28" y2="599.6" stroke="#5a5a5a" stroke-width="0.7" stroke-dasharray="4,2.6"/>
<line x1="260.28" y1="626.04" x2="260.28" y2="629.61" stroke="#5a5a5a" stroke-width="0.7" stroke-dasharray="4,2.6"/>
<line x1="256.48" y1="599.6" x2="264.08" y2="599.6" stroke="#444" stroke-width="0.8" />
<line x1="256.48" y1="629.61" x2="264.08" y2="629.61" stroke="#444" stroke-width="0.8" />
<rect x="252.58" y="615.3" width="15.4" height="10.74" fill="none" stroke="#7676ff" stroke-width="0.8"/>
<line x1="252.98" y1="622.64" x2="267.58" y2="622.64" stroke="#ff6a6a" stroke-width="0.8" />
<rect x="258.28" y="584.1" width="4" height="15" fill="#ff3030" opacity="0.55"/>
<path d="M257.98 598.6H262.58M260.28 597V600.2" stroke="#ff2020" stroke-width="0.62"/>
<path d="M257.98 597.1H262.58M260.28 595.5V598.7" stroke="#ff2020" stroke-width="0.62"/>
<path d="M257.98 595.6H262.58M260.28 594V597.2" stroke="#ff2020" stroke-width="0.62"/>
<path d="M257.98 594.1H262.58M260.28 592.5V595.7" stroke="#ff2020" stroke-width="0.62"/>
<path d="M257.98 592.6H262.58M260.28 591V594.2" stroke="#ff2020" stroke-width="0.62"/>
<path d="M257.98 591.1H262.58M260.28 589.5V592.7" stroke="#ff2020" stroke-width="0.62"/>
<path d="M257.98 589.6H262.58M260.28 588V591.2" stroke="#ff2020" stroke-width="0.62"/>
<path d="M257.98 588.1H262.58M260.28 586.5V589.7" stroke="#ff2020" stroke-width="0.62"/>
<path d="M257.98 586.6H262.58M260.28 585V588.2" stroke="#ff2020" stroke-width="0.62"/>
<path d="M257.98 585.1H262.58M260.28 583.5V586.7" stroke="#ff2020" stroke-width="0.62"/>
<path d="M258.18 581H262.38M260.28 579.4V582.6" stroke="#ff2020" stroke-width="0.62"/>
<path d="M258.18 577.82H262.38M260.28 576.22V579.42" stroke="#ff2020" stroke-width="0.62"/>
<path d="M258.18 574.1H262.38M260.28 572.5V575.7" stroke="#ff2020" stroke-width="0.62"/>
<path d="M258.18 570.91H262.38M260.28 569.31V572.51" stroke="#ff2020" stroke-width="0.62"/>
<path d="M258.18 568.25H262.38M260.28 566.65V569.85" stroke="#ff2020" stroke-width="0.62"/>
<path d="M258.18 565.6H262.38M260.28 564V567.2" stroke="#ff2020" stroke-width="0.62"/>
<path d="M258.18 562.94H262.38M260.28 561.34V564.54" stroke="#ff2020" stroke-width="0.62"/>
<path d="M258.18 560.81H262.38M260.28 559.21V562.41" stroke="#ff2020" stroke-width="0.62"/>
<path d="M258.18 519.89H262.38M260.28 518.29V521.49" stroke="#ff2020" stroke-width="0.62"/>
<path d="M258.18 524.1H262.38M260.28 522.5V525.7" stroke="#ff2020" stroke-width="0.62"/>
<path d="M258.18 534.98H262.38M260.28 533.38V536.58" stroke="#ff2020" stroke-width="0.62"/>
<line x1="290.52" y1="615.3" x2="290.52" y2="599.5" stroke="#5a5a5a" stroke-width="0.7" stroke-dasharray="4,2.6"/>
<line x1="290.52" y1="626.06" x2="290.52" y2="629.64" stroke="#5a5a5a" stroke-width="0.7" stroke-dasharray="4,2.6"/>
<line x1="286.72" y1="599.5" x2="294.32" y2="599.5" stroke="#444" stroke-width="0.8" />
<line x1="286.72" y1="629.64" x2="294.32" y2="629.64" stroke="#444" stroke-width="0.8" />
<rect x="282.82" y="615.3" width="15.4" height="10.76" fill="none" stroke="#7676ff" stroke-width="0.8"/>
<line x1="283.22" y1="622.66" x2="297.82" y2="622.66" stroke="#ff6a6a" stroke-width="0.8" />
<rect x="288.52" y="584" width="4" height="15" fill="#ff3030" opacity="0.55"/>
<path d="M288.22 598.5H292.82M290.52 596.9V600.1" stroke="#ff2020" stroke-width="0.62"/>
<path d="M288.22 597H292.82M290.52 595.4V598.6" stroke="#ff2020" stroke-width="0.62"/>
<path d="M288.22 595.5H292.82M290.52 593.9V597.1" stroke="#ff2020" stroke-width="0.62"/>
<path d="M288.22 594H292.82M290.52 592.4V595.6" stroke="#ff2020" stroke-width="0.62"/>
<path d="M288.22 592.5H292.82M290.52 590.9V594.1" stroke="#ff2020" stroke-width="0.62"/>
<path d="M288.22 591H292.82M290.52 589.4V592.6" stroke="#ff2020" stroke-width="0.62"/>
<path d="M288.22 589.5H292.82M290.52 587.9V591.1" stroke="#ff2020" stroke-width="0.62"/>
<path d="M288.22 588H292.82M290.52 586.4V589.6" stroke="#ff2020" stroke-width="0.62"/>
<path d="M288.22 586.5H292.82M290.52 584.9V588.1" stroke="#ff2020" stroke-width="0.62"/>
<path d="M288.22 585H292.82M290.52 583.4V586.6" stroke="#ff2020" stroke-width="0.62"/>
<path d="M288.42 580.75H292.62M290.52 579.15V582.35" stroke="#ff2020" stroke-width="0.62"/>
<path d="M288.42 577.53H292.62M290.52 575.93V579.13" stroke="#ff2020" stroke-width="0.62"/>
<path d="M288.42 573.78H292.62M290.52 572.18V575.38" stroke="#ff2020" stroke-width="0.62"/>
<path d="M288.42 570.57H292.62M290.52 568.97V572.17" stroke="#ff2020" stroke-width="0.62"/>
<path d="M288.42 567.89H292.62M290.52 566.29V569.49" stroke="#ff2020" stroke-width="0.62"/>
<path d="M288.42 565.21H292.62M290.52 563.61V566.81" stroke="#ff2020" stroke-width="0.62"/>
<path d="M288.42 562.53H292.62M290.52 560.93V564.13" stroke="#ff2020" stroke-width="0.62"/>
<path d="M288.42 560.39H292.62M290.52 558.79V561.99" stroke="#ff2020" stroke-width="0.62"/>
<path d="M288.42 519.36H292.62M290.52 517.76V520.96" stroke="#ff2020" stroke-width="0.62"/>
<path d="M288.42 523.3H292.62M290.52 521.7V524.9" stroke="#ff2020" stroke-width="0.62"/>
<path d="M288.42 534.42H292.62M290.52 532.82V536.02" stroke="#ff2020" stroke-width="0.62"/>
<line x1="320.76" y1="615.3" x2="320.76" y2="599.4" stroke="#5a5a5a" stroke-width="0.7" stroke-dasharray="4,2.6"/>
<line x1="320.76" y1="626.08" x2="320.76" y2="629.67" stroke="#5a5a5a" stroke-width="0.7" stroke-dasharray="4,2.6"/>
<line x1="316.96" y1="599.4" x2="324.56" y2="599.4" stroke="#444" stroke-width="0.8" />
<line x1="316.96" y1="629.67" x2="324.56" y2="629.67" stroke="#444" stroke-width="0.8" />
<rect x="313.06" y="615.3" width="15.4" height="10.78" fill="none" stroke="#7676ff" stroke-width="0.8"/>
<line x1="313.46" y1="622.68" x2="328.06" y2="622.68" stroke="#ff6a6a" stroke-width="0.8" />
<rect x="318.76" y="583.9" width="4" height="15" fill="#ff3030" opacity="0.55"/>
<path d="M318.46 598.4H323.06M320.76 596.8V600" stroke="#ff2020" stroke-width="0.62"/>
<path d="M318.46 596.9H323.06M320.76 595.3V598.5" stroke="#ff2020" stroke-width="0.62"/>
<path d="M318.46 595.4H323.06M320.76 593.8V597" stroke="#ff2020" stroke-width="0.62"/>
<path d="M318.46 593.9H323.06M320.76 592.3V595.5" stroke="#ff2020" stroke-width="0.62"/>
<path d="M318.46 592.4H323.06M320.76 590.8V594" stroke="#ff2020" stroke-width="0.62"/>
<path d="M318.46 590.9H323.06M320.76 589.3V592.5" stroke="#ff2020" stroke-width="0.62"/>
<path d="M318.46 589.4H323.06M320.76 587.8V591" stroke="#ff2020" stroke-width="0.62"/>
<path d="M318.46 587.9H323.06M320.76 586.3V589.5" stroke="#ff2020" stroke-width="0.62"/>
<path d="M318.46 586.4H323.06M320.76 584.8V588" stroke="#ff2020" stroke-width="0.62"/>
<path d="M318.46 584.9H323.06M320.76 583.3V586.5" stroke="#ff2020" stroke-width="0.62"/>
<path d="M318.66 580.49H322.86M320.76 578.89V582.09" stroke="#ff2020" stroke-width="0.62"/>
<path d="M318.66 577.25H322.86M320.76 575.65V578.85" stroke="#ff2020" stroke-width="0.62"/>
<path d="M318.66 573.47H322.86M320.76 571.87V575.07" stroke="#ff2020" stroke-width="0.62"/>
<path d="M318.66 570.23H322.86M320.76 568.63V571.83" stroke="#ff2020" stroke-width="0.62"/>
<path d="M318.66 567.52H322.86M320.76 565.92V569.12" stroke="#ff2020" stroke-width="0.62"/>
<path d="M318.66 564.82H322.86M320.76 563.22V566.42" stroke="#ff2020" stroke-width="0.62"/>
<path d="M318.66 562.12H322.86M320.76 560.52V563.72" stroke="#ff2020" stroke-width="0.62"/>
<path d="M318.66 559.96H322.86M320.76 558.36V561.56" stroke="#ff2020" stroke-width="0.62"/>
<path d="M318.66 518.83H322.86M320.76 517.23V520.43" stroke="#ff2020" stroke-width="0.62"/>
<path d="M318.66 522.5H322.86M320.76 520.9V524.1" stroke="#ff2020" stroke-width="0.62"/>
<path d="M318.66 533.86H322.86M320.76 532.26V535.46" stroke="#ff2020" stroke-width="0.62"/>
<line x1="351" y1="615.3" x2="351" y2="599.3" stroke="#5a5a5a" stroke-width="0.7" stroke-dasharray="4,2.6"/>
<line x1="351" y1="626.1" x2="351" y2="629.7" stroke="#5a5a5a" stroke-width="0.7" stroke-dasharray="4,2.6"/>
<line x1="347.2" y1="599.3" x2="354.8" y2="599.3" stroke="#444" stroke-width="0.8" />
<line x1="347.2" y1="629.7" x2="354.8" y2="629.7" stroke="#444" stroke-width="0.8" />
<rect x="343.3" y="615.3" width="15.4" height="10.8" fill="none" stroke="#7676ff" stroke-width="0.8"/>
<line x1="343.7" y1="622.7" x2="358.3" y2="622.7" stroke="#ff6a6a" stroke-width="0.8" />
<rect x="349" y="583.8" width="4" height="15" fill="#ff3030" opacity="0.55"/>
<path d="M348.7 598.3H353.3M351 596.7V599.9" stroke="#ff2020" stroke-width="0.62"/>
<path d="M348.7 596.8H353.3M351 595.2V598.4" stroke="#ff2020" stroke-width="0.62"/>
<path d="M348.7 595.3H353.3M351 593.7V596.9" stroke="#ff2020" stroke-width="0.62"/>
<path d="M348.7 593.8H353.3M351 592.2V595.4" stroke="#ff2020" stroke-width="0.62"/>
<path d="M348.7 592.3H353.3M351 590.7V593.9" stroke="#ff2020" stroke-width="0.62"/>
<path d="M348.7 590.8H353.3M351 589.2V592.4" stroke="#ff2020" stroke-width="0.62"/>
<path d="M348.7 589.3H353.3M351 587.7V590.9" stroke="#ff2020" stroke-width="0.62"/>
<path d="M348.7 587.8H353.3M351 586.2V589.4" stroke="#ff2020" stroke-width="0.62"/>
<path d="M348.7 586.3H353.3M351 584.7V587.9" stroke="#ff2020" stroke-width="0.62"/>
<path d="M348.7 584.8H353.3M351 583.2V586.4" stroke="#ff2020" stroke-width="0.62"/>
<path d="M348.9 580.23H353.1M351 578.63V581.83" stroke="#ff2020" stroke-width="0.62"/>
<path d="M348.9 576.97H353.1M351 575.37V578.57" stroke="#ff2020" stroke-width="0.62"/>
<path d="M348.9 573.15H353.1M351 571.55V574.75" stroke="#ff2020" stroke-width="0.62"/>
<path d="M348.9 569.88H353.1M351 568.28V571.48" stroke="#ff2020" stroke-width="0.62"/>
<path d="M348.9 567.16H353.1M351 565.56V568.76" stroke="#ff2020" stroke-width="0.62"/>
<path d="M348.9 564.44H353.1M351 562.84V566.04" stroke="#ff2020" stroke-width="0.62"/>
<path d="M348.9 561.71H353.1M351 560.11V563.31" stroke="#ff2020" stroke-width="0.62"/>
<path d="M348.9 559.53H353.1M351 557.93V561.13" stroke="#ff2020" stroke-width="0.62"/>
<path d="M348.9 518.3H353.1M351 516.7V519.9" stroke="#ff2020" stroke-width="0.62"/>
<path d="M348.9 521.7H353.1M351 520.1V523.3" stroke="#ff2020" stroke-width="0.62"/>
<path d="M348.9 533.3H353.1M351 531.7V534.9" stroke="#ff2020" stroke-width="0.62"/>
<line x1="381.24" y1="615.3" x2="381.24" y2="599.2" stroke="#5a5a5a" stroke-width="0.7" stroke-dasharray="4,2.6"/>
<line x1="381.24" y1="626.12" x2="381.24" y2="629.73" stroke="#5a5a5a" stroke-width="0.7" stroke-dasharray="4,2.6"/>
<line x1="377.44" y1="599.2" x2="385.04" y2="599.2" stroke="#444" stroke-width="0.8" />
<line x1="377.44" y1="629.73" x2="385.04" y2="629.73" stroke="#444" stroke-width="0.8" />
<rect x="373.54" y="615.3" width="15.4" height="10.82" fill="none" stroke="#7676ff" stroke-width="0.8"/>
<line x1="373.94" y1="622.72" x2="388.54" y2="622.72" stroke="#ff6a6a" stroke-width="0.8" />
<rect x="379.24" y="583.7" width="4" height="15" fill="#ff3030" opacity="0.55"/>
<path d="M378.94 598.2H383.54M381.24 596.6V599.8" stroke="#ff2020" stroke-width="0.62"/>
<path d="M378.94 596.7H383.54M381.24 595.1V598.3" stroke="#ff2020" stroke-width="0.62"/>
<path d="M378.94 595.2H383.54M381.24 593.6V596.8" stroke="#ff2020" stroke-width="0.62"/>
<path d="M378.94 593.7H383.54M381.24 592.1V595.3" stroke="#ff2020" stroke-width="0.62"/>
<path d="M378.94 592.2H383.54M381.24 590.6V593.8" stroke="#ff2020" stroke-width="0.62"/>
<path d="M378.94 590.7H383.54M381.24 589.1V592.3" stroke="#ff2020" stroke-width="0.62"/>
<path d="M378.94 589.2H383.54M381.24 587.6V590.8" stroke="#ff2020" stroke-width="0.62"/>
<path d="M378.94 587.7H383.54M381.24 586.1V589.3" stroke="#ff2020" stroke-width="0.62"/>
<path d="M378.94 586.2H383.54M381.24 584.6V587.8" stroke="#ff2020" stroke-width="0.62"/>
<path d="M378.94 584.7H383.54M381.24 583.1V586.3" stroke="#ff2020" stroke-width="0.62"/>
<path d="M379.14 579.98H383.34M381.24 578.38V581.58" stroke="#ff2020" stroke-width="0.62"/>
<path d="M379.14 576.68H383.34M381.24 575.08V578.28" stroke="#ff2020" stroke-width="0.62"/>
<path d="M379.14 572.84H383.34M381.24 571.24V574.44" stroke="#ff2020" stroke-width="0.62"/>
<path d="M379.14 569.54H383.34M381.24 567.94V571.14" stroke="#ff2020" stroke-width="0.62"/>
<path d="M379.14 566.8H383.34M381.24 565.2V568.4" stroke="#ff2020" stroke-width="0.62"/>
<path d="M379.14 564.05H383.34M381.24 562.45V565.65" stroke="#ff2020" stroke-width="0.62"/>
<path d="M379.14 561.3H383.34M381.24 559.7V562.9" stroke="#ff2020" stroke-width="0.62"/>
<path d="M379.14 559.11H383.34M381.24 557.51V560.71" stroke="#ff2020" stroke-width="0.62"/>
<path d="M379.14 517.77H383.34M381.24 516.17V519.37" stroke="#ff2020" stroke-width="0.62"/>
<path d="M379.14 520.9H383.34M381.24 519.3V522.5" stroke="#ff2020" stroke-width="0.62"/>
<path d="M379.14 532.74H383.34M381.24 531.14V534.34" stroke="#ff2020" stroke-width="0.62"/>
<line x1="411.48" y1="615.3" x2="411.48" y2="599.1" stroke="#5a5a5a" stroke-width="0.7" stroke-dasharray="4,2.6"/>
<line x1="411.48" y1="626.14" x2="411.48" y2="629.76" stroke="#5a5a5a" stroke-width="0.7" stroke-dasharray="4,2.6"/>
<line x1="407.68" y1="599.1" x2="415.28" y2="599.1" stroke="#444" stroke-width="0.8" />
<line x1="407.68" y1="629.76" x2="415.28" y2="629.76" stroke="#444" stroke-width="0.8" />
<rect x="403.78" y="615.3" width="15.4" height="10.84" fill="none" stroke="#7676ff" stroke-width="0.8"/>
<line x1="404.18" y1="622.74" x2="418.78" y2="622.74" stroke="#ff6a6a" stroke-width="0.8" />
<rect x="409.48" y="583.6" width="4" height="15" fill="#ff3030" opacity="0.55"/>
<path d="M409.18 598.1H413.78M411.48 596.5V599.7" stroke="#ff2020" stroke-width="0.62"/>
<path d="M409.18 596.6H413.78M411.48 595V598.2" stroke="#ff2020" stroke-width="0.62"/>
<path d="M409.18 595.1H413.78M411.48 593.5V596.7" stroke="#ff2020" stroke-width="0.62"/>
<path d="M409.18 593.6H413.78M411.48 592V595.2" stroke="#ff2020" stroke-width="0.62"/>
<path d="M409.18 592.1H413.78M411.48 590.5V593.7" stroke="#ff2020" stroke-width="0.62"/>
<path d="M409.18 590.6H413.78M411.48 589V592.2" stroke="#ff2020" stroke-width="0.62"/>
<path d="M409.18 589.1H413.78M411.48 587.5V590.7" stroke="#ff2020" stroke-width="0.62"/>
<path d="M409.18 587.6H413.78M411.48 586V589.2" stroke="#ff2020" stroke-width="0.62"/>
<path d="M409.18 586.1H413.78M411.48 584.5V587.7" stroke="#ff2020" stroke-width="0.62"/>
<path d="M409.18 584.6H413.78M411.48 583V586.2" stroke="#ff2020" stroke-width="0.62"/>
<path d="M409.38 579.72H413.58M411.48 578.12V581.32" stroke="#ff2020" stroke-width="0.62"/>
<path d="M409.38 576.4H413.58M411.48 574.8V578" stroke="#ff2020" stroke-width="0.62"/>
<path d="M409.38 572.52H413.58M411.48 570.92V574.12" stroke="#ff2020" stroke-width="0.62"/>
<path d="M409.38 569.2H413.58M411.48 567.6V570.8" stroke="#ff2020" stroke-width="0.62"/>
<path d="M409.38 566.43H413.58M411.48 564.83V568.03" stroke="#ff2020" stroke-width="0.62"/>
<path d="M409.38 563.66H413.58M411.48 562.06V565.26" stroke="#ff2020" stroke-width="0.62"/>
<path d="M409.38 560.9H413.58M411.48 559.3V562.5" stroke="#ff2020" stroke-width="0.62"/>
<path d="M409.38 558.68H413.58M411.48 557.08V560.28" stroke="#ff2020" stroke-width="0.62"/>
<path d="M409.38 517.24H413.58M411.48 515.64V518.84" stroke="#ff2020" stroke-width="0.62"/>
<path d="M409.38 520.1H413.58M411.48 518.5V521.7" stroke="#ff2020" stroke-width="0.62"/>
<path d="M409.38 532.18H413.58M411.48 530.58V533.78" stroke="#ff2020" stroke-width="0.62"/>
<line x1="441.72" y1="615.3" x2="441.72" y2="599" stroke="#5a5a5a" stroke-width="0.7" stroke-dasharray="4,2.6"/>
<line x1="441.72" y1="626.16" x2="441.72" y2="629.79" stroke="#5a5a5a" stroke-width="0.7" stroke-dasharray="4,2.6"/>
<line x1="437.92" y1="599" x2="445.52" y2="599" stroke="#444" stroke-width="0.8" />
<line x1="437.92" y1="629.79" x2="445.52" y2="629.79" stroke="#444" stroke-width="0.8" />
<rect x="434.02" y="615.3" width="15.4" height="10.86" fill="none" stroke="#7676ff" stroke-width="0.8"/>
<line x1="434.42" y1="622.76" x2="449.02" y2="622.76" stroke="#ff6a6a" stroke-width="0.8" />
<rect x="439.72" y="583.5" width="4" height="15" fill="#ff3030" opacity="0.55"/>
<path d="M439.42 598H444.02M441.72 596.4V599.6" stroke="#ff2020" stroke-width="0.62"/>
<path d="M439.42 596.5H444.02M441.72 594.9V598.1" stroke="#ff2020" stroke-width="0.62"/>
<path d="M439.42 595H444.02M441.72 593.4V596.6" stroke="#ff2020" stroke-width="0.62"/>
<path d="M439.42 593.5H444.02M441.72 591.9V595.1" stroke="#ff2020" stroke-width="0.62"/>
<path d="M439.42 592H444.02M441.72 590.4V593.6" stroke="#ff2020" stroke-width="0.62"/>
<path d="M439.42 590.5H444.02M441.72 588.9V592.1" stroke="#ff2020" stroke-width="0.62"/>
<path d="M439.42 589H444.02M441.72 587.4V590.6" stroke="#ff2020" stroke-width="0.62"/>
<path d="M439.42 587.5H444.02M441.72 585.9V589.1" stroke="#ff2020" stroke-width="0.62"/>
<path d="M439.42 586H444.02M441.72 584.4V587.6" stroke="#ff2020" stroke-width="0.62"/>
<path d="M439.42 584.5H444.02M441.72 582.9V586.1" stroke="#ff2020" stroke-width="0.62"/>
<path d="M439.62 579.46H443.82M441.72 577.86V581.06" stroke="#ff2020" stroke-width="0.62"/>
<path d="M439.62 576.12H443.82M441.72 574.52V577.72" stroke="#ff2020" stroke-width="0.62"/>
<path d="M439.62 572.21H443.82M441.72 570.61V573.81" stroke="#ff2020" stroke-width="0.62"/>
<path d="M439.62 568.86H443.82M441.72 567.26V570.46" stroke="#ff2020" stroke-width="0.62"/>
<path d="M439.62 566.07H443.82M441.72 564.47V567.67" stroke="#ff2020" stroke-width="0.62"/>
<path d="M439.62 563.28H443.82M441.72 561.68V564.88" stroke="#ff2020" stroke-width="0.62"/>
<path d="M439.62 560.49H443.82M441.72 558.89V562.09" stroke="#ff2020" stroke-width="0.62"/>
<path d="M439.62 558.25H443.82M441.72 556.65V559.85" stroke="#ff2020" stroke-width="0.62"/>
<path d="M439.62 516.71H443.82M441.72 515.11V518.31" stroke="#ff2020" stroke-width="0.62"/>
<path d="M439.62 519.3H443.82M441.72 517.7V520.9" stroke="#ff2020" stroke-width="0.62"/>
<path d="M439.62 531.62H443.82M441.72 530.02V533.22" stroke="#ff2020" stroke-width="0.62"/>
<line x1="471.96" y1="615.3" x2="471.96" y2="598.9" stroke="#5a5a5a" stroke-width="0.7" stroke-dasharray="4,2.6"/>
<line x1="471.96" y1="626.18" x2="471.96" y2="629.82" stroke="#5a5a5a" stroke-width="0.7" stroke-dasharray="4,2.6"/>
<line x1="468.16" y1="598.9" x2="475.76" y2="598.9" stroke="#444" stroke-width="0.8" />
<line x1="468.16" y1="629.82" x2="475.76" y2="629.82" stroke="#444" stroke-width="0.8" />
<rect x="464.26" y="615.3" width="15.4" height="10.88" fill="none" stroke="#7676ff" stroke-width="0.8"/>
<line x1="464.66" y1="622.78" x2="479.26" y2="622.78" stroke="#ff6a6a" stroke-width="0.8" />
<rect x="469.96" y="583.4" width="4" height="15" fill="#ff3030" opacity="0.55"/>
<path d="M469.66 597.9H474.26M471.96 596.3V599.5" stroke="#ff2020" stroke-width="0.62"/>
<path d="M469.66 596.4H474.26M471.96 594.8V598" stroke="#ff2020" stroke-width="0.62"/>
<path d="M469.66 594.9H474.26M471.96 593.3V596.5" stroke="#ff2020" stroke-width="0.62"/>
<path d="M469.66 593.4H474.26M471.96 591.8V595" stroke="#ff2020" stroke-width="0.62"/>
<path d="M469.66 591.9H474.26M471.96 590.3V593.5" stroke="#ff2020" stroke-width="0.62"/>
<path d="M469.66 590.4H474.26M471.96 588.8V592" stroke="#ff2020" stroke-width="0.62"/>
<path d="M469.66 588.9H474.26M471.96 587.3V590.5" stroke="#ff2020" stroke-width="0.62"/>
<path d="M469.66 587.4H474.26M471.96 585.8V589" stroke="#ff2020" stroke-width="0.62"/>
<path d="M469.66 585.9H474.26M471.96 584.3V587.5" stroke="#ff2020" stroke-width="0.62"/>
<path d="M469.66 584.4H474.26M471.96 582.8V586" stroke="#ff2020" stroke-width="0.62"/>
<path d="M469.86 579.21H474.06M471.96 577.61V580.81" stroke="#ff2020" stroke-width="0.62"/>
<path d="M469.86 575.83H474.06M471.96 574.23V577.43" stroke="#ff2020" stroke-width="0.62"/>
<path d="M469.86 571.89H474.06M471.96 570.29V573.49" stroke="#ff2020" stroke-width="0.62"/>
<path d="M469.86 568.52H474.06M471.96 566.92V570.12" stroke="#ff2020" stroke-width="0.62"/>
<path d="M469.86 565.7H474.06M471.96 564.1V567.3" stroke="#ff2020" stroke-width="0.62"/>
<path d="M469.86 562.89H474.06M471.96 561.29V564.49" stroke="#ff2020" stroke-width="0.62"/>
<path d="M469.86 560.08H474.06M471.96 558.48V561.68" stroke="#ff2020" stroke-width="0.62"/>
<path d="M469.86 557.83H474.06M471.96 556.23V559.43" stroke="#ff2020" stroke-width="0.62"/>
<path d="M469.86 516.18H474.06M471.96 514.58V517.78" stroke="#ff2020" stroke-width="0.62"/>
<path d="M469.86 518.5H474.06M471.96 516.9V520.1" stroke="#ff2020" stroke-width="0.62"/>
<path d="M469.86 531.06H474.06M471.96 529.46V532.66" stroke="#ff2020" stroke-width="0.62"/>
<line x1="502.2" y1="615.3" x2="502.2" y2="598.8" stroke="#5a5a5a" stroke-width="0.7" stroke-dasharray="4,2.6"/>
<line x1="502.2" y1="626.2" x2="502.2" y2="629.85" stroke="#5a5a5a" stroke-width="0.7" stroke-dasharray="4,2.6"/>
<line x1="498.4" y1="598.8" x2="506" y2="598.8" stroke="#444" stroke-width="0.8" />
<line x1="498.4" y1="629.85" x2="506" y2="629.85" stroke="#444" stroke-width="0.8" />
<rect x="494.5" y="615.3" width="15.4" height="10.9" fill="none" stroke="#7676ff" stroke-width="0.8"/>
<line x1="494.9" y1="622.8" x2="509.5" y2="622.8" stroke="#ff6a6a" stroke-width="0.8" />
<rect x="500.2" y="583.3" width="4" height="15" fill="#ff3030" opacity="0.55"/>
<path d="M499.9 597.8H504.5M502.2 596.2V599.4" stroke="#ff2020" stroke-width="0.62"/>
<path d="M499.9 596.3H504.5M502.2 594.7V597.9" stroke="#ff2020" stroke-width="0.62"/>
<path d="M499.9 594.8H504.5M502.2 593.2V596.4" stroke="#ff2020" stroke-width="0.62"/>
<path d="M499.9 593.3H504.5M502.2 591.7V594.9" stroke="#ff2020" stroke-width="0.62"/>
<path d="M499.9 591.8H504.5M502.2 590.2V593.4" stroke="#ff2020" stroke-width="0.62"/>
<path d="M499.9 590.3H504.5M502.2 588.7V591.9" stroke="#ff2020" stroke-width="0.62"/>
<path d="M499.9 588.8H504.5M502.2 587.2V590.4" stroke="#ff2020" stroke-width="0.62"/>
<path d="M499.9 587.3H504.5M502.2 585.7V588.9" stroke="#ff2020" stroke-width="0.62"/>
<path d="M499.9 585.8H504.5M502.2 584.2V587.4" stroke="#ff2020" stroke-width="0.62"/>
<path d="M499.9 584.3H504.5M502.2 582.7V585.9" stroke="#ff2020" stroke-width="0.62"/>
<path d="M500.1 578.95H504.3M502.2 577.35V580.55" stroke="#ff2020" stroke-width="0.62"/>
<path d="M500.1 575.55H504.3M502.2 573.95V577.15" stroke="#ff2020" stroke-width="0.62"/>
<path d="M500.1 571.58H504.3M502.2 569.98V573.18" stroke="#ff2020" stroke-width="0.62"/>
<path d="M500.1 568.18H504.3M502.2 566.58V569.78" stroke="#ff2020" stroke-width="0.62"/>
<path d="M500.1 565.34H504.3M502.2 563.74V566.94" stroke="#ff2020" stroke-width="0.62"/>
<path d="M500.1 562.51H504.3M502.2 560.91V564.11" stroke="#ff2020" stroke-width="0.62"/>
<path d="M500.1 559.67H504.3M502.2 558.07V561.27" stroke="#ff2020" stroke-width="0.62"/>
<path d="M500.1 557.4H504.3M502.2 555.8V559" stroke="#ff2020" stroke-width="0.62"/>
<path d="M500.1 515.65H504.3M502.2 514.05V517.25" stroke="#ff2020" stroke-width="0.62"/>
<path d="M500.1 517.7H504.3M502.2 516.1V519.3" stroke="#ff2020" stroke-width="0.62"/>
<path d="M500.1 530.5H504.3M502.2 528.9V532.1" stroke="#ff2020" stroke-width="0.62"/>
<line x1="532.44" y1="615.3" x2="532.44" y2="598.7" stroke="#5a5a5a" stroke-width="0.7" stroke-dasharray="4,2.6"/>
<line x1="532.44" y1="626.22" x2="532.44" y2="629.88" stroke="#5a5a5a" stroke-width="0.7" stroke-dasharray="4,2.6"/>
<line x1="528.64" y1="598.7" x2="536.24" y2="598.7" stroke="#444" stroke-width="0.8" />
<line x1="528.64" y1="629.88" x2="536.24" y2="629.88" stroke="#444" stroke-width="0.8" />
<rect x="524.74" y="615.3" width="15.4" height="10.92" fill="none" stroke="#7676ff" stroke-width="0.8"/>
<line x1="525.14" y1="622.82" x2="539.74" y2="622.82" stroke="#ff6a6a" stroke-width="0.8" />
<rect x="530.44" y="583.2" width="4" height="15" fill="#ff3030" opacity="0.55"/>
<path d="M530.14 597.7H534.74M532.44 596.1V599.3" stroke="#ff2020" stroke-width="0.62"/>
<path d="M530.14 596.2H534.74M532.44 594.6V597.8" stroke="#ff2020" stroke-width="0.62"/>
<path d="M530.14 594.7H534.74M532.44 593.1V596.3" stroke="#ff2020" stroke-width="0.62"/>
<path d="M530.14 593.2H534.74M532.44 591.6V594.8" stroke="#ff2020" stroke-width="0.62"/>
<path d="M530.14 591.7H534.74M532.44 590.1V593.3" stroke="#ff2020" stroke-width="0.62"/>
<path d="M530.14 590.2H534.74M532.44 588.6V591.8" stroke="#ff2020" stroke-width="0.62"/>
<path d="M530.14 588.7H534.74M532.44 587.1V590.3" stroke="#ff2020" stroke-width="0.62"/>
<path d="M530.14 587.2H534.74M532.44 585.6V588.8" stroke="#ff2020" stroke-width="0.62"/>
<path d="M530.14 585.7H534.74M532.44 584.1V587.3" stroke="#ff2020" stroke-width="0.62"/>
<path d="M530.14 584.2H534.74M532.44 582.6V585.8" stroke="#ff2020" stroke-width="0.62"/>
<path d="M530.34 578.69H534.54M532.44 577.09V580.29" stroke="#ff2020" stroke-width="0.62"/>
<path d="M530.34 575.27H534.54M532.44 573.67V576.87" stroke="#ff2020" stroke-width="0.62"/>
<path d="M530.34 571.26H534.54M532.44 569.66V572.86" stroke="#ff2020" stroke-width="0.62"/>
<path d="M530.34 567.83H534.54M532.44 566.23V569.43" stroke="#ff2020" stroke-width="0.62"/>
<path d="M530.34 564.98H534.54M532.44 563.38V566.58" stroke="#ff2020" stroke-width="0.62"/>
<path d="M530.34 562.12H534.54M532.44 560.52V563.72" stroke="#ff2020" stroke-width="0.62"/>
<path d="M530.34 559.26H534.54M532.44 557.66V560.86" stroke="#ff2020" stroke-width="0.62"/>
<path d="M530.34 556.97H534.54M532.44 555.37V558.57" stroke="#ff2020" stroke-width="0.62"/>
<path d="M530.34 515.12H534.54M532.44 513.52V516.72" stroke="#ff2020" stroke-width="0.62"/>
<path d="M530.34 516.9H534.54M532.44 515.3V518.5" stroke="#ff2020" stroke-width="0.62"/>
<path d="M530.34 529.94H534.54M532.44 528.34V531.54" stroke="#ff2020" stroke-width="0.62"/>
<line x1="562.68" y1="615.3" x2="562.68" y2="598.6" stroke="#5a5a5a" stroke-width="0.7" stroke-dasharray="4,2.6"/>
<line x1="562.68" y1="626.24" x2="562.68" y2="629.91" stroke="#5a5a5a" stroke-width="0.7" stroke-dasharray="4,2.6"/>
<line x1="558.88" y1="598.6" x2="566.48" y2="598.6" stroke="#444" stroke-width="0.8" />
<line x1="558.88" y1="629.91" x2="566.48" y2="629.91" stroke="#444" stroke-width="0.8" />
<rect x="554.98" y="615.3" width="15.4" height="10.94" fill="none" stroke="#7676ff" stroke-width="0.8"/>
<line x1="555.38" y1="622.84" x2="569.98" y2="622.84" stroke="#ff6a6a" stroke-width="0.8" />
<rect x="560.68" y="583.1" width="4" height="15" fill="#ff3030" opacity="0.55"/>
<path d="M560.38 597.6H564.98M562.68 596V599.2" stroke="#ff2020" stroke-width="0.62"/>
<path d="M560.38 596.1H564.98M562.68 594.5V597.7" stroke="#ff2020" stroke-width="0.62"/>
<path d="M560.38 594.6H564.98M562.68 593V596.2" stroke="#ff2020" stroke-width="0.62"/>
<path d="M560.38 593.1H564.98M562.68 591.5V594.7" stroke="#ff2020" stroke-width="0.62"/>
<path d="M560.38 591.6H564.98M562.68 590V593.2" stroke="#ff2020" stroke-width="0.62"/>
<path d="M560.38 590.1H564.98M562.68 588.5V591.7" stroke="#ff2020" stroke-width="0.62"/>
<path d="M560.38 588.6H564.98M562.68 587V590.2" stroke="#ff2020" stroke-width="0.62"/>
<path d="M560.38 587.1H564.98M562.68 585.5V588.7" stroke="#ff2020" stroke-width="0.62"/>
<path d="M560.38 585.6H564.98M562.68 584V587.2" stroke="#ff2020" stroke-width="0.62"/>
<path d="M560.38 584.1H564.98M562.68 582.5V585.7" stroke="#ff2020" stroke-width="0.62"/>
<path d="M560.58 578.44H564.78M562.68 576.84V580.04" stroke="#ff2020" stroke-width="0.62"/>
<path d="M560.58 574.98H564.78M562.68 573.38V576.58" stroke="#ff2020" stroke-width="0.62"/>
<path d="M560.58 570.95H564.78M562.68 569.35V572.55" stroke="#ff2020" stroke-width="0.62"/>
<path d="M560.58 567.49H564.78M562.68 565.89V569.09" stroke="#ff2020" stroke-width="0.62"/>
<path d="M560.58 564.61H564.78M562.68 563.01V566.21" stroke="#ff2020" stroke-width="0.62"/>
<path d="M560.58 561.73H564.78M562.68 560.13V563.33" stroke="#ff2020" stroke-width="0.62"/>
<path d="M560.58 558.85H564.78M562.68 557.25V560.45" stroke="#ff2020" stroke-width="0.62"/>
<path d="M560.58 556.55H564.78M562.68 554.95V558.15" stroke="#ff2020" stroke-width="0.62"/>
<path d="M560.58 514.59H564.78M562.68 512.99V516.19" stroke="#ff2020" stroke-width="0.62"/>
<path d="M560.58 516.1H564.78M562.68 514.5V517.7" stroke="#ff2020" stroke-width="0.62"/>
<path d="M560.58 529.38H564.78M562.68 527.78V530.98" stroke="#ff2020" stroke-width="0.62"/>
<line x1="592.92" y1="615.3" x2="592.92" y2="598.5" stroke="#5a5a5a" stroke-width="0.7" stroke-dasharray="4,2.6"/>
<line x1="592.92" y1="626.26" x2="592.92" y2="629.94" stroke="#5a5a5a" stroke-width="0.7" stroke-dasharray="4,2.6"/>
<line x1="589.12" y1="598.5" x2="596.72" y2="598.5" stroke="#444" stroke-width="0.8" />
<line x1="589.12" y1="629.94" x2="596.72" y2="629.94" stroke="#444" stroke-width="0.8" />
<rect x="585.22" y="615.3" width="15.4" height="10.96" fill="none" stroke="#7676ff" stroke-width="0.8"/>
<line x1="585.62" y1="622.86" x2="600.22" y2="622.86" stroke="#ff6a6a" stroke-width="0.8" />
<rect x="590.92" y="583" width="4" height="15" fill="#ff3030" opacity="0.55"/>
<path d="M590.62 597.5H595.22M592.92 595.9V599.1" stroke="#ff2020" stroke-width="0.62"/>
<path d="M590.62 596H595.22M592.92 594.4V597.6" stroke="#ff2020" stroke-width="0.62"/>
<path d="M590.62 594.5H595.22M592.92 592.9V596.1" stroke="#ff2020" stroke-width="0.62"/>
<path d="M590.62 593H595.22M592.92 591.4V594.6" stroke="#ff2020" stroke-width="0.62"/>
<path d="M590.62 591.5H595.22M592.92 589.9V593.1" stroke="#ff2020" stroke-width="0.62"/>
<path d="M590.62 590H595.22M592.92 588.4V591.6" stroke="#ff2020" stroke-width="0.62"/>
<path d="M590.62 588.5H595.22M592.92 586.9V590.1" stroke="#ff2020" stroke-width="0.62"/>
<path d="M590.62 587H595.22M592.92 585.4V588.6" stroke="#ff2020" stroke-width="0.62"/>
<path d="M590.62 585.5H595.22M592.92 583.9V587.1" stroke="#ff2020" stroke-width="0.62"/>
<path d="M590.62 584H595.22M592.92 582.4V585.6" stroke="#ff2020" stroke-width="0.62"/>
<path d="M590.82 578.18H595.02M592.92 576.58V579.78" stroke="#ff2020" stroke-width="0.62"/>
<path d="M590.82 574.7H595.02M592.92 573.1V576.3" stroke="#ff2020" stroke-width="0.62"/>
<path d="M590.82 570.63H595.02M592.92 569.03V572.23" stroke="#ff2020" stroke-width="0.62"/>
<path d="M590.82 567.15H595.02M592.92 565.55V568.75" stroke="#ff2020" stroke-width="0.62"/>
<path d="M590.82 564.25H595.02M592.92 562.65V565.85" stroke="#ff2020" stroke-width="0.62"/>
<path d="M590.82 561.35H595.02M592.92 559.75V562.95" stroke="#ff2020" stroke-width="0.62"/>
<path d="M590.82 558.44H595.02M592.92 556.84V560.04" stroke="#ff2020" stroke-width="0.62"/>
<path d="M590.82 556.12H595.02M592.92 554.52V557.72" stroke="#ff2020" stroke-width="0.62"/>
<path d="M590.82 514.06H595.02M592.92 512.46V515.66" stroke="#ff2020" stroke-width="0.62"/>
<path d="M590.82 515.3H595.02M592.92 513.7V516.9" stroke="#ff2020" stroke-width="0.62"/>
<path d="M590.82 528.82H595.02M592.92 527.22V530.42" stroke="#ff2020" stroke-width="0.62"/>
<line x1="623.16" y1="615.3" x2="623.16" y2="598.4" stroke="#5a5a5a" stroke-width="0.7" stroke-dasharray="4,2.6"/>
<line x1="623.16" y1="626.28" x2="623.16" y2="629.97" stroke="#5a5a5a" stroke-width="0.7" stroke-dasharray="4,2.6"/>
<line x1="619.36" y1="598.4" x2="626.96" y2="598.4" stroke="#444" stroke-width="0.8" />
<line x1="619.36" y1="629.97" x2="626.96" y2="629.97" stroke="#444" stroke-width="0.8" />
<rect x="615.46" y="615.3" width="15.4" height="10.98" fill="none" stroke="#7676ff" stroke-width="0.8"/>
<line x1="615.86" y1="622.88" x2="630.46" y2="622.88" stroke="#ff6a6a" stroke-width="0.8" />
<rect x="621.16" y="582.9" width="4" height="15" fill="#ff3030" opacity="0.55"/>
<path d="M620.86 597.4H625.46M623.16 595.8V599" stroke="#ff2020" stroke-width="0.62"/>
<path d="M620.86 595.9H625.46M623.16 594.3V597.5" stroke="#ff2020" stroke-width="0.62"/>
<path d="M620.86 594.4H625.46M623.16 592.8V596" stroke="#ff2020" stroke-width="0.62"/>
<path d="M620.86 592.9H625.46M623.16 591.3V594.5" stroke="#ff2020" stroke-width="0.62"/>
<path d="M620.86 591.4H625.46M623.16 589.8V593" stroke="#ff2020" stroke-width="0.62"/>
<path d="M620.86 589.9H625.46M623.16 588.3V591.5" stroke="#ff2020" stroke-width="0.62"/>
<path d="M620.86 588.4H625.46M623.16 586.8V590" stroke="#ff2020" stroke-width="0.62"/>
<path d="M620.86 586.9H625.46M623.16 585.3V588.5" stroke="#ff2020" stroke-width="0.62"/>
<path d="M620.86 585.4H625.46M623.16 583.8V587" stroke="#ff2020" stroke-width="0.62"/>
<path d="M620.86 583.9H625.46M623.16 582.3V585.5" stroke="#ff2020" stroke-width="0.62"/>
<path d="M621.06 577.92H625.26M623.16 576.32V579.52" stroke="#ff2020" stroke-width="0.62"/>
<path d="M621.06 574.41H625.26M623.16 572.81V576.01" stroke="#ff2020" stroke-width="0.62"/>
<path d="M621.06 570.32H625.26M623.16 568.72V571.92" stroke="#ff2020" stroke-width="0.62"/>
<path d="M621.06 566.81H625.26M623.16 565.21V568.41" stroke="#ff2020" stroke-width="0.62"/>
<path d="M621.06 563.88H625.26M623.16 562.28V565.49" stroke="#ff2020" stroke-width="0.62"/>
<path d="M621.06 560.96H625.26M623.16 559.36V562.56" stroke="#ff2020" stroke-width="0.62"/>
<path d="M621.06 558.03H625.26M623.16 556.43V559.63" stroke="#ff2020" stroke-width="0.62"/>
<path d="M621.06 555.69H625.26M623.16 554.09V557.29" stroke="#ff2020" stroke-width="0.62"/>
<path d="M621.06 513.53H625.26M623.16 511.93V515.13" stroke="#ff2020" stroke-width="0.62"/>
<path d="M621.06 514.5H625.26M623.16 512.9V516.1" stroke="#ff2020" stroke-width="0.62"/>
<path d="M621.06 528.26H625.26M623.16 526.66V529.86" stroke="#ff2020" stroke-width="0.62"/>
<line x1="47.4" y1="618.35" x2="638.3" y2="618.35" stroke="#1a1a1a" stroke-width="1.1" stroke-dasharray="4.4,2.0"/>
<text x="335.5" y="501.3" text-anchor="middle" font-size="14.2" fill="#111" font-family="Liberation Serif">(<tspan font-style="italic">d</tspan>)</text>
<text style="stroke:none" transform="translate(10.0,571.8) rotate(-90) scale(1.13,1)" text-anchor="middle" font-size="13.2" fill="#111" font-family="Liberation Serif" font-style="italic" letter-spacing="0.75">EAM<tspan font-style="normal" font-size="14">(</tspan><tspan dx="0.3">τ</tspan><tspan font-style="normal" font-size="14" dx="-0.4">)</tspan></text>
<text style="stroke:none" transform="translate(335.5,659.7) scale(1.3,1)" text-anchor="middle" font-size="14.5" fill="#111" font-family="Liberation Serif" font-style="italic">τ</text>
</svg>
</body></html>
